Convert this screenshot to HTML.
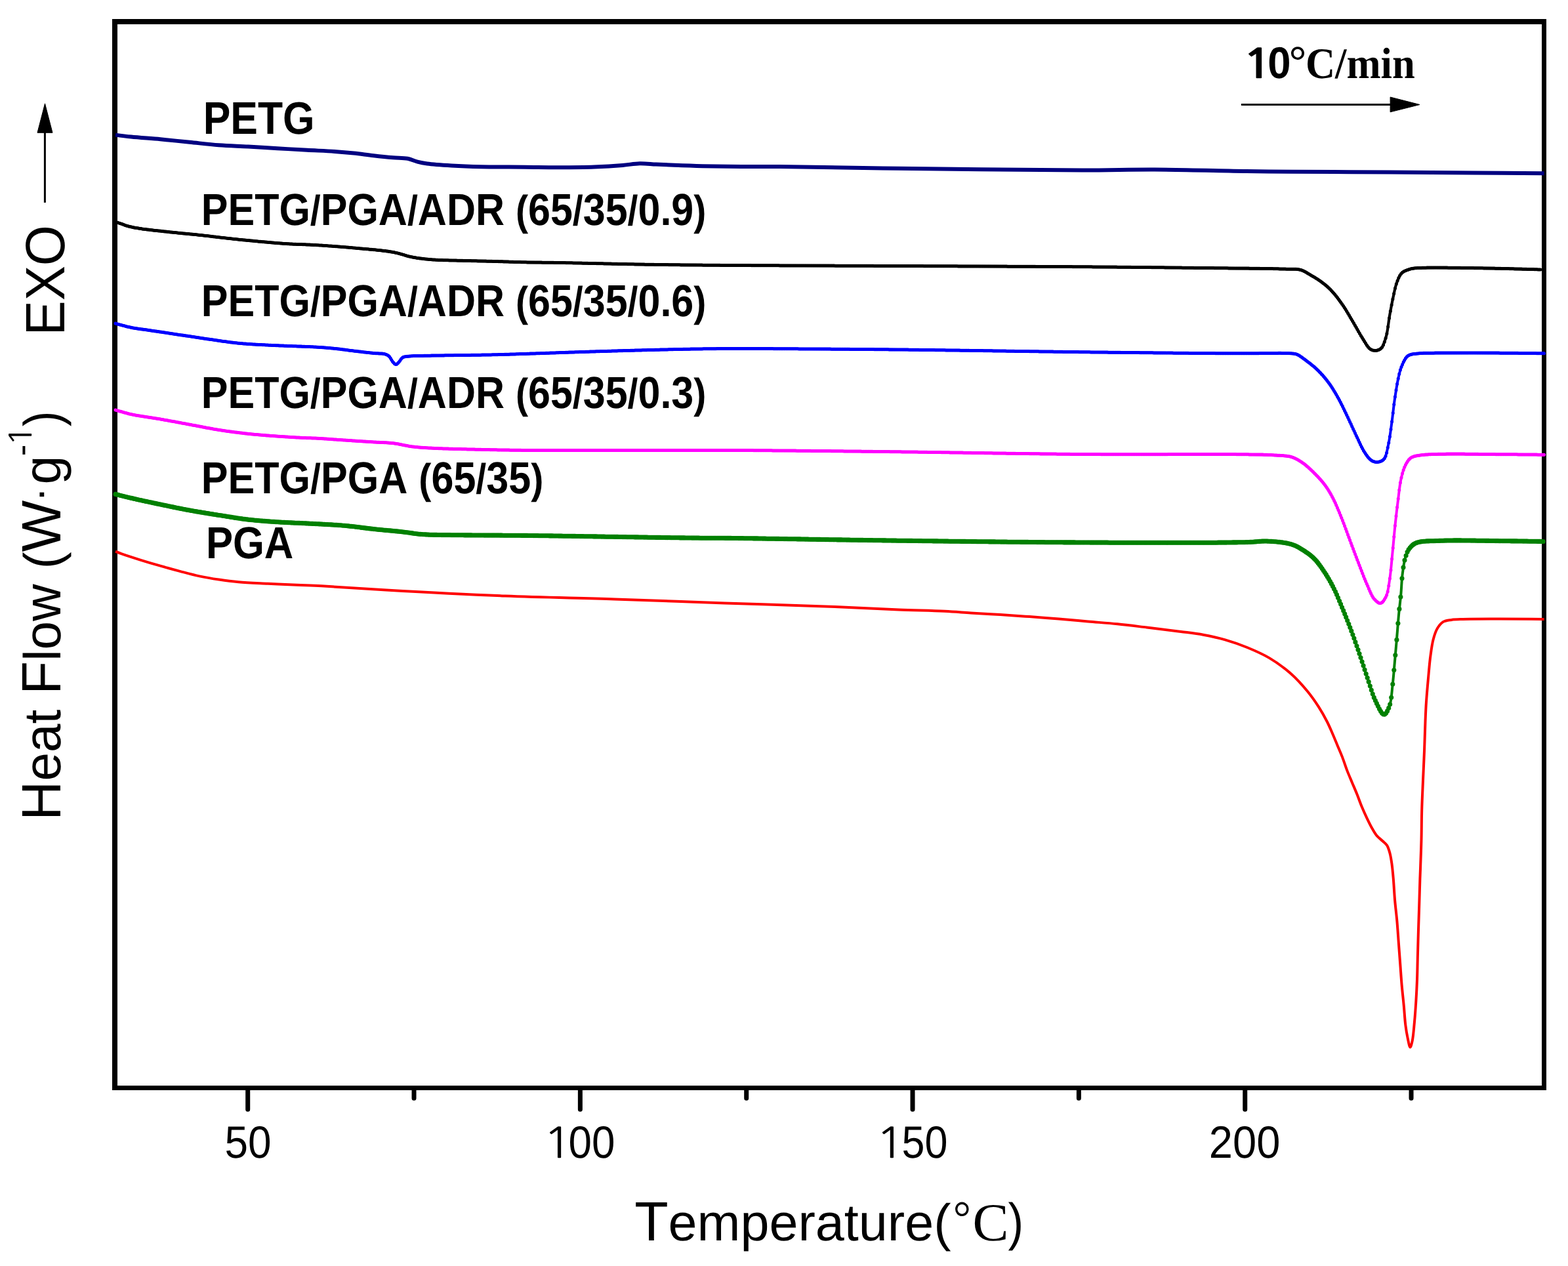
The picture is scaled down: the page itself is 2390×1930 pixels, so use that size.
<!DOCTYPE html>
<html lang="en">
<head>
<meta charset="utf-8">
<title>DSC heating curves: PETG, PGA and PETG/PGA/ADR blends</title>
<style>
html, body { margin: 0; padding: 0; background: #ffffff; }
body { width: 2390px; height: 1930px; overflow: hidden; }
svg { display: block; }
text { font-kerning: none; }
</style>
</head>
<body>
<svg width="2390" height="1930" viewBox="0 0 2390 1930">
<rect x="0" y="0" width="2390" height="1930" fill="#ffffff"/>
<g fill="#000">
<rect x="171" y="29" width="8" height="1633"/>
<rect x="2350" y="29" width="7" height="1633"/>
<rect x="171" y="29" width="2186" height="8"/>
<rect x="171" y="1655" width="2186" height="7"/>
</g>
<path d="M377.70,1659 L377.70,1691.2 M884.37,1659 L884.37,1691.2 M1391.03,1659 L1391.03,1691.2 M1897.70,1659 L1897.70,1691.2 M631.03,1659 L631.03,1674.2 M1137.70,1659 L1137.70,1674.2 M1644.36,1659 L1644.36,1674.2 M2151.03,1659 L2151.03,1674.2" stroke="#000" stroke-width="7" stroke-linecap="round" fill="none"/>
<path d="M176.00,205.60 C176.00,205.60 190.62,207.64 199.80,208.60 C212.34,209.91 229.53,210.93 244.40,212.30 C259.30,213.67 274.21,215.30 289.10,216.80 C303.98,218.30 318.81,220.18 333.70,221.30 C348.58,222.42 363.51,222.68 378.40,223.50 C393.28,224.32 408.12,225.32 423.00,226.20 C437.89,227.08 453.02,228.01 467.70,228.80 C481.94,229.57 497.00,230.02 509.80,230.90 C520.57,231.64 529.60,232.44 539.50,233.50 C549.44,234.57 559.36,236.17 569.30,237.30 C579.23,238.43 589.88,239.53 599.10,240.30 C607.07,240.97 614.78,240.53 621.40,241.80 C626.94,242.86 631.29,245.31 636.30,246.60 C641.23,247.87 645.09,248.66 651.20,249.50 C660.78,250.81 675.43,251.72 688.40,252.50 C702.58,253.36 716.62,253.92 733.00,254.30 C753.07,254.76 779.30,254.53 800.00,254.70 C817.88,254.84 832.86,255.22 850.00,255.20 C868.14,255.18 888.57,255.12 906.00,254.50 C921.29,253.96 936.47,253.04 949.00,252.00 C958.76,251.19 966.41,249.44 975.00,249.20 C983.41,248.97 991.43,250.08 1000.00,250.50 C1009.07,250.95 1017.67,251.39 1028.00,251.80 C1040.80,252.31 1055.53,252.86 1071.00,253.20 C1089.11,253.60 1110.37,253.75 1130.00,253.90 C1149.57,254.05 1163.69,253.87 1188.60,254.10 C1232.43,254.50 1303.05,255.98 1370.00,256.80 C1453.03,257.82 1577.06,259.48 1649.00,259.50 C1694.38,259.52 1720.86,258.33 1760.00,258.50 C1803.96,258.69 1861.58,260.46 1900.00,261.00 C1926.87,261.38 1941.26,261.49 1968.50,261.70 C2008.77,262.01 2070.21,262.17 2118.20,262.50 C2162.64,262.81 2205.75,263.31 2246.60,263.60 C2283.89,263.86 2353.60,264.20 2353.60,264.20" stroke="#000080" stroke-width="6" fill="none" stroke-linejoin="round" stroke-linecap="butt"/>
<path d="M178.90,339.20 C178.90,339.20 182.63,340.42 184.90,341.20 C187.90,342.23 191.25,343.80 195.30,344.90 C200.70,346.37 206.81,347.40 214.60,348.60 C226.39,350.41 244.39,352.18 259.30,353.80 C274.19,355.42 289.11,356.68 304.00,358.30 C318.88,359.92 333.73,361.88 348.60,363.50 C363.46,365.12 378.32,366.63 393.20,368.00 C408.09,369.37 423.21,370.78 437.90,371.70 C452.13,372.59 464.76,372.60 480.00,373.50 C498.13,374.57 519.67,376.19 539.50,378.00 C559.37,379.82 582.75,381.42 599.10,384.40 C610.80,386.53 618.83,390.20 628.80,392.10 C638.66,393.98 647.64,394.94 658.60,395.80 C671.97,396.85 688.41,396.88 703.30,397.30 C718.17,397.72 732.46,397.90 747.90,398.30 C764.59,398.73 782.50,399.43 800.00,399.80 C817.76,400.17 831.61,400.13 853.70,400.50 C889.27,401.09 947.64,402.63 993.00,403.30 C1036.31,403.94 1070.57,404.17 1120.00,404.50 C1189.36,404.97 1283.76,405.13 1370.00,405.50 C1462.46,405.89 1574.45,406.22 1657.40,406.80 C1720.72,407.25 1772.19,407.81 1824.90,408.40 C1872.03,408.92 1932.45,409.20 1958.80,410.10 C1969.85,410.48 1975.63,409.61 1982.30,411.40 C1987.74,412.86 1991.46,415.77 1996.30,418.50 C2001.78,421.60 2008.02,425.26 2013.40,429.20 C2018.72,433.10 2023.48,436.91 2028.40,442.00 C2034.20,447.99 2040.03,455.61 2045.50,463.40 C2051.48,471.91 2057.13,482.16 2062.60,491.30 C2067.81,500.01 2072.86,509.69 2077.60,517.00 C2081.32,522.74 2084.44,529.13 2088.30,531.90 C2090.99,533.83 2093.99,534.65 2096.80,534.50 C2099.69,534.34 2103.00,533.24 2105.40,530.80 C2108.88,527.27 2110.89,519.65 2112.90,512.60 C2115.48,503.55 2116.35,490.89 2118.20,480.60 C2119.93,470.97 2121.69,461.36 2123.60,452.70 C2125.28,445.07 2126.54,437.67 2128.90,431.30 C2130.95,425.76 2132.71,419.97 2136.40,416.40 C2139.94,412.98 2145.65,411.31 2150.30,410.00 C2154.58,408.80 2156.85,408.86 2163.20,408.50 C2180.86,407.51 2231.55,408.44 2263.70,408.90 C2293.38,409.32 2349.30,411.00 2349.30,411.00" stroke="#000000" stroke-width="4.2" fill="none" stroke-linejoin="round"/>
<defs><marker id="dk" markerUnits="userSpaceOnUse" markerWidth="8" markerHeight="8" refX="4" refY="4" overflow="visible"><circle cx="4" cy="4" r="2.5" fill="#000000"/></marker></defs>
<polyline fill="none" stroke="none" marker-start="url(#dk)" marker-mid="url(#dk)" marker-end="url(#dk)" points="178.9,339.2 180.7,339.8 182.5,340.4 184.3,341.0 186.1,341.6 187.9,342.3 189.7,343.0 191.5,343.7 193.3,344.3 195.1,344.8 196.9,345.3 198.7,345.7 200.5,346.1 202.3,346.5 204.1,346.9 205.9,347.2 207.7,347.5 209.5,347.8 211.3,348.1 213.1,348.4 214.9,348.6 216.7,348.9 218.5,349.2 220.3,349.4 222.1,349.6 223.9,349.9 225.7,350.1 227.5,350.3 229.3,350.5 231.1,350.7 232.9,350.9 234.7,351.2 236.5,351.4 238.3,351.5 240.1,351.7 241.9,351.9 243.7,352.1 245.5,352.3 247.3,352.5 249.1,352.7 250.9,352.9 252.7,353.1 254.5,353.3 256.3,353.5 258.1,353.7 259.9,353.9 261.7,354.1 263.5,354.2 265.3,354.4 267.1,354.6 268.9,354.8 270.7,355.0 272.5,355.2 274.3,355.3 276.1,355.5 277.9,355.7 279.7,355.9 281.5,356.0 283.3,356.2 285.1,356.4 286.9,356.6 288.7,356.7 290.5,356.9 292.3,357.1 294.1,357.3 295.9,357.5 297.7,357.6 299.5,357.8 301.3,358.0 303.1,358.2 304.9,358.4 306.7,358.6 308.5,358.8 310.3,359.0 312.1,359.2 313.9,359.4 315.7,359.6 317.5,359.8 319.3,360.1 321.1,360.3 322.9,360.5 324.7,360.7 326.5,360.9 328.3,361.1 330.1,361.4 331.9,361.6 333.7,361.8 335.5,362.0 337.3,362.2 339.1,362.4 340.9,362.6 342.7,362.8 344.5,363.0 346.3,363.2 348.1,363.4 349.9,363.6 351.7,363.8 353.5,364.0 355.3,364.2 357.1,364.4 358.9,364.6 360.7,364.8 362.5,365.0 364.3,365.2 366.1,365.4 367.9,365.5 369.7,365.7 371.5,365.9 373.3,366.1 375.1,366.3 376.9,366.4 378.7,366.6 380.5,366.8 382.3,367.0 384.1,367.1 385.9,367.3 387.7,367.5 389.5,367.7 391.3,367.8 393.1,368.0 394.9,368.2 396.7,368.3 398.5,368.5 400.3,368.7 402.1,368.8 403.9,369.0 405.7,369.1 407.5,369.3 409.3,369.5 411.1,369.6 412.9,369.8 414.7,369.9 416.5,370.1 418.3,370.2 420.1,370.4 421.9,370.5 423.7,370.7 425.5,370.8 427.3,371.0 429.1,371.1 430.9,371.2 432.7,371.4 434.5,371.5 436.3,371.6 438.1,371.7 439.9,371.8 441.7,371.9 443.5,372.0 445.3,372.1 447.1,372.2 448.9,372.3 450.7,372.3 452.5,372.4 454.3,372.5 456.1,372.5 457.9,372.6 459.7,372.6 461.5,372.7 463.3,372.8 465.1,372.8 466.9,372.9 468.7,373.0 470.5,373.0 472.3,373.1 474.1,373.2 475.9,373.3 477.7,373.4 479.5,373.5 481.3,373.6 483.1,373.7 484.9,373.8 486.7,373.9 488.5,374.0 490.3,374.1 492.1,374.3 493.9,374.4 495.7,374.5 497.5,374.6 499.3,374.8 501.1,374.9 502.9,375.0 504.7,375.1 506.5,375.3 508.3,375.4 510.1,375.5 511.9,375.7 513.7,375.8 515.5,376.0 517.3,376.1 519.1,376.3 520.9,376.4 522.7,376.5 524.5,376.7 526.3,376.8 528.1,377.0 529.9,377.1 531.7,377.3 533.5,377.5 535.3,377.6 537.1,377.8 538.9,377.9 540.7,378.1 542.5,378.3 544.3,378.4 546.1,378.6 547.9,378.7 549.7,378.9 551.5,379.1 553.3,379.2 555.1,379.4 556.9,379.5 558.7,379.7 560.5,379.8 562.3,380.0 564.1,380.2 565.9,380.3 567.7,380.5 569.5,380.7 571.3,380.8 573.1,381.0 574.9,381.2 576.7,381.4 578.5,381.6 580.3,381.8 582.1,382.0 583.9,382.2 585.7,382.4 587.5,382.6 589.3,382.9 591.1,383.1 592.9,383.4 594.7,383.7 596.5,383.9 598.3,384.3 600.1,384.6 601.9,385.0 603.7,385.4 605.5,385.8 607.3,386.2 609.1,386.7 610.9,387.2 612.7,387.8 614.5,388.3 616.3,388.8 618.1,389.4 619.9,389.9 621.7,390.4 623.5,390.9 625.3,391.3 627.1,391.8 628.9,392.1 630.7,392.5 632.5,392.8 634.3,393.1 636.1,393.4 637.9,393.6 639.7,393.9 641.5,394.1 643.3,394.3 645.1,394.5 646.9,394.7 648.7,394.9 650.5,395.1 652.3,395.3 654.1,395.4 655.9,395.6 657.7,395.7 659.5,395.9 661.3,396.0 663.1,396.1 664.9,396.2 666.7,396.3 668.5,396.4 670.3,396.5 672.1,396.5 673.9,396.6 675.7,396.7 677.5,396.7 679.3,396.8 681.1,396.8 682.9,396.8 684.7,396.9 686.5,396.9 688.3,397.0 690.1,397.0 691.9,397.0 693.7,397.1 695.5,397.1 697.3,397.2 699.1,397.2 700.9,397.2 702.7,397.3 704.5,397.3 706.3,397.4 708.1,397.4 709.9,397.5 711.7,397.5 713.5,397.6 715.3,397.6 717.1,397.6 718.9,397.7 720.7,397.7 722.5,397.7 724.3,397.8 726.1,397.8 727.9,397.9 729.7,397.9 731.5,397.9 733.3,398.0 735.1,398.0 736.9,398.0 738.7,398.1 740.5,398.1 742.3,398.2 744.1,398.2 745.9,398.2 747.7,398.3 749.5,398.3 751.3,398.4 753.1,398.4 754.9,398.5 756.7,398.5 758.5,398.6 760.3,398.7 762.1,398.7 763.9,398.8 765.7,398.8 767.5,398.9 769.3,398.9 771.1,399.0 772.9,399.0 774.7,399.1 776.5,399.2 778.3,399.2 780.1,399.3 781.9,399.3 783.7,399.4 785.5,399.4 787.3,399.5 789.1,399.5 790.9,399.6 792.7,399.6 794.5,399.7 796.3,399.7 798.1,399.8 799.9,399.8 801.7,399.8 803.5,399.9 805.3,399.9 807.1,399.9 808.9,400.0 810.7,400.0 812.5,400.0 814.3,400.0 816.1,400.1 817.9,400.1 819.7,400.1 821.5,400.1 823.3,400.1 825.1,400.1 826.9,400.2 828.7,400.2 830.5,400.2 832.3,400.2 834.1,400.2 835.9,400.3 837.7,400.3 839.5,400.3 841.3,400.3 843.1,400.3 844.9,400.4 846.7,400.4 848.5,400.4 850.3,400.4 852.1,400.5 853.9,400.5 855.7,400.5 857.5,400.6 859.3,400.6 861.1,400.6 862.9,400.7 864.7,400.7 866.5,400.7 868.3,400.8 870.1,400.8 871.9,400.8 873.7,400.9 875.5,400.9 877.3,400.9 879.1,401.0 880.9,401.0 882.7,401.1 884.5,401.1 886.3,401.1 888.1,401.2 889.9,401.2 891.7,401.3 893.5,401.3 895.3,401.3 897.1,401.4 898.9,401.4 900.7,401.5 902.5,401.5 904.3,401.5 906.1,401.6 907.9,401.6 909.7,401.7 911.5,401.7 913.3,401.7 915.1,401.8 916.9,401.8 918.7,401.8 920.5,401.9 922.3,401.9 924.1,402.0 925.9,402.0 927.7,402.0 929.5,402.1 931.3,402.1 933.1,402.2 934.9,402.2 936.7,402.2 938.5,402.3 940.3,402.3 942.1,402.4 943.9,402.4 945.7,402.4 947.5,402.5 949.3,402.5 951.1,402.5 952.9,402.6 954.7,402.6 956.5,402.7 958.3,402.7 960.1,402.7 961.9,402.8 963.7,402.8 965.5,402.8 967.3,402.9 969.1,402.9 970.9,402.9 972.7,403.0 974.5,403.0 976.3,403.0 978.1,403.1 979.9,403.1 981.7,403.1 983.5,403.2 985.3,403.2 987.1,403.2 988.9,403.2 990.7,403.3 992.5,403.3 994.3,403.3 996.1,403.3 997.9,403.4 999.7,403.4 1001.5,403.4 1003.3,403.4 1005.1,403.5 1006.9,403.5 1008.7,403.5 1010.5,403.5 1012.3,403.6 1014.1,403.6 1015.9,403.6 1017.7,403.6 1019.5,403.7 1021.3,403.7 1023.1,403.7 1024.9,403.7 1026.7,403.7 1028.5,403.8 1030.3,403.8 1032.1,403.8 1033.9,403.8 1035.7,403.8 1037.5,403.9 1039.3,403.9 1041.1,403.9 1042.9,403.9 1044.7,403.9 1046.5,403.9 1048.3,404.0 1050.1,404.0 1051.9,404.0 1053.7,404.0 1055.5,404.0 1057.3,404.0 1059.1,404.1 1060.9,404.1 1062.7,404.1 1064.5,404.1 1066.3,404.1 1068.1,404.1 1069.9,404.1 1071.7,404.2 1073.5,404.2 1075.3,404.2 1077.1,404.2 1078.9,404.2 1080.7,404.2 1082.5,404.2 1084.3,404.3 1086.1,404.3 1087.9,404.3 1089.7,404.3 1091.5,404.3 1093.3,404.3 1095.1,404.3 1096.9,404.3 1098.7,404.4 1100.5,404.4 1102.3,404.4 1104.1,404.4 1105.9,404.4 1107.7,404.4 1109.5,404.4 1111.3,404.4 1113.1,404.5 1114.9,404.5 1116.7,404.5 1118.5,404.5 1120.3,404.5 1122.1,404.5 1123.9,404.5 1125.7,404.5 1127.5,404.5 1129.3,404.6 1131.1,404.6 1132.9,404.6 1134.7,404.6 1136.5,404.6 1138.3,404.6 1140.1,404.6 1141.9,404.6 1143.7,404.6 1145.5,404.7 1147.3,404.7 1149.1,404.7 1150.9,404.7 1152.7,404.7 1154.5,404.7 1156.3,404.7 1158.1,404.7 1159.9,404.7 1161.7,404.7 1163.5,404.7 1165.3,404.8 1167.1,404.8 1168.9,404.8 1170.7,404.8 1172.5,404.8 1174.3,404.8 1176.1,404.8 1177.9,404.8 1179.7,404.8 1181.5,404.8 1183.3,404.8 1185.1,404.8 1186.9,404.8 1188.7,404.9 1190.5,404.9 1192.3,404.9 1194.1,404.9 1195.9,404.9 1197.7,404.9 1199.5,404.9 1201.3,404.9 1203.1,404.9 1204.9,404.9 1206.7,404.9 1208.5,404.9 1210.3,404.9 1212.1,404.9 1213.9,405.0 1215.7,405.0 1217.5,405.0 1219.3,405.0 1221.1,405.0 1222.9,405.0 1224.7,405.0 1226.5,405.0 1228.3,405.0 1230.1,405.0 1231.9,405.0 1233.7,405.0 1235.5,405.0 1237.3,405.0 1239.1,405.0 1240.9,405.0 1242.7,405.1 1244.5,405.1 1246.3,405.1 1248.1,405.1 1249.9,405.1 1251.7,405.1 1253.5,405.1 1255.3,405.1 1257.1,405.1 1258.9,405.1 1260.7,405.1 1262.5,405.1 1264.3,405.1 1266.1,405.1 1267.9,405.1 1269.7,405.1 1271.5,405.1 1273.3,405.2 1275.1,405.2 1276.9,405.2 1278.7,405.2 1280.5,405.2 1282.3,405.2 1284.1,405.2 1285.9,405.2 1287.7,405.2 1289.5,405.2 1291.3,405.2 1293.1,405.2 1294.9,405.2 1296.7,405.2 1298.5,405.2 1300.3,405.2 1302.1,405.2 1303.9,405.3 1305.7,405.3 1307.5,405.3 1309.3,405.3 1311.1,405.3 1312.9,405.3 1314.7,405.3 1316.5,405.3 1318.3,405.3 1320.1,405.3 1321.9,405.3 1323.7,405.3 1325.5,405.3 1327.3,405.3 1329.1,405.3 1330.9,405.3 1332.7,405.4 1334.5,405.4 1336.3,405.4 1338.1,405.4 1339.9,405.4 1341.7,405.4 1343.5,405.4 1345.3,405.4 1347.1,405.4 1348.9,405.4 1350.7,405.4 1352.5,405.4 1354.3,405.4 1356.1,405.4 1357.9,405.4 1359.7,405.5 1361.5,405.5 1363.3,405.5 1365.1,405.5 1366.9,405.5 1368.7,405.5 1370.5,405.5 1372.3,405.5 1374.1,405.5 1375.9,405.5 1377.7,405.5 1379.5,405.5 1381.3,405.5 1383.1,405.6 1384.9,405.6 1386.7,405.6 1388.5,405.6 1390.3,405.6 1392.1,405.6 1393.9,405.6 1395.7,405.6 1397.5,405.6 1399.3,405.6 1401.1,405.6 1402.9,405.6 1404.7,405.6 1406.5,405.6 1408.3,405.7 1410.1,405.7 1411.9,405.7 1413.7,405.7 1415.5,405.7 1417.3,405.7 1419.1,405.7 1420.9,405.7 1422.7,405.7 1424.5,405.7 1426.3,405.7 1428.1,405.7 1429.9,405.7 1431.7,405.7 1433.5,405.8 1435.3,405.8 1437.1,405.8 1438.9,405.8 1440.7,405.8 1442.5,405.8 1444.3,405.8 1446.1,405.8 1447.9,405.8 1449.7,405.8 1451.5,405.8 1453.3,405.8 1455.1,405.8 1456.9,405.8 1458.7,405.8 1460.5,405.9 1462.3,405.9 1464.1,405.9 1465.9,405.9 1467.7,405.9 1469.5,405.9 1471.3,405.9 1473.1,405.9 1474.9,405.9 1476.7,405.9 1478.5,405.9 1480.3,405.9 1482.1,405.9 1483.9,405.9 1485.7,406.0 1487.5,406.0 1489.3,406.0 1491.1,406.0 1492.9,406.0 1494.7,406.0 1496.5,406.0 1498.3,406.0 1500.1,406.0 1501.9,406.0 1503.7,406.0 1505.5,406.0 1507.3,406.0 1509.1,406.0 1510.9,406.1 1512.7,406.1 1514.5,406.1 1516.3,406.1 1518.1,406.1 1519.9,406.1 1521.7,406.1 1523.5,406.1 1525.3,406.1 1527.1,406.1 1528.9,406.1 1530.7,406.1 1532.5,406.1 1534.3,406.1 1536.1,406.2 1537.9,406.2 1539.7,406.2 1541.5,406.2 1543.3,406.2 1545.1,406.2 1546.9,406.2 1548.7,406.2 1550.5,406.2 1552.3,406.2 1554.1,406.2 1555.9,406.2 1557.7,406.3 1559.5,406.3 1561.3,406.3 1563.1,406.3 1564.9,406.3 1566.7,406.3 1568.5,406.3 1570.3,406.3 1572.1,406.3 1573.9,406.3 1575.7,406.3 1577.5,406.3 1579.3,406.4 1581.1,406.4 1582.9,406.4 1584.7,406.4 1586.5,406.4 1588.3,406.4 1590.1,406.4 1591.9,406.4 1593.7,406.4 1595.5,406.4 1597.3,406.4 1599.1,406.5 1600.9,406.5 1602.7,406.5 1604.5,406.5 1606.3,406.5 1608.1,406.5 1609.9,406.5 1611.7,406.5 1613.5,406.5 1615.3,406.5 1617.1,406.5 1618.9,406.6 1620.7,406.6 1622.5,406.6 1624.3,406.6 1626.1,406.6 1627.9,406.6 1629.7,406.6 1631.5,406.6 1633.3,406.6 1635.1,406.7 1636.9,406.7 1638.7,406.7 1640.5,406.7 1642.3,406.7 1644.1,406.7 1645.9,406.7 1647.7,406.7 1649.5,406.7 1651.3,406.8 1653.1,406.8 1654.9,406.8 1656.7,406.8 1658.5,406.8 1660.3,406.8 1662.1,406.8 1663.9,406.8 1665.7,406.9 1667.5,406.9 1669.3,406.9 1671.1,406.9 1672.9,406.9 1674.7,406.9 1676.5,406.9 1678.3,407.0 1680.1,407.0 1681.9,407.0 1683.7,407.0 1685.5,407.0 1687.3,407.0 1689.1,407.0 1690.9,407.1 1692.7,407.1 1694.5,407.1 1696.3,407.1 1698.1,407.1 1699.9,407.1 1701.7,407.1 1703.5,407.2 1705.3,407.2 1707.1,407.2 1708.9,407.2 1710.7,407.2 1712.5,407.2 1714.3,407.3 1716.1,407.3 1717.9,407.3 1719.7,407.3 1721.5,407.3 1723.3,407.3 1725.1,407.4 1726.9,407.4 1728.7,407.4 1730.5,407.4 1732.3,407.4 1734.1,407.4 1735.9,407.5 1737.7,407.5 1739.5,407.5 1741.3,407.5 1743.1,407.5 1744.9,407.5 1746.7,407.6 1748.5,407.6 1750.3,407.6 1752.1,407.6 1753.9,407.6 1755.7,407.7 1757.5,407.7 1759.3,407.7 1761.1,407.7 1762.9,407.7 1764.7,407.7 1766.5,407.8 1768.3,407.8 1770.1,407.8 1771.9,407.8 1773.7,407.8 1775.5,407.9 1777.3,407.9 1779.1,407.9 1780.9,407.9 1782.7,407.9 1784.5,408.0 1786.3,408.0 1788.1,408.0 1789.9,408.0 1791.7,408.0 1793.5,408.1 1795.3,408.1 1797.1,408.1 1798.9,408.1 1800.7,408.1 1802.5,408.2 1804.3,408.2 1806.1,408.2 1807.9,408.2 1809.7,408.2 1811.5,408.3 1813.3,408.3 1815.1,408.3 1816.9,408.3 1818.7,408.3 1820.5,408.4 1822.3,408.4 1824.1,408.4 1825.9,408.4 1827.7,408.4 1829.5,408.4 1831.3,408.5 1833.1,408.5 1834.9,408.5 1836.7,408.5 1838.5,408.5 1840.3,408.6 1842.1,408.6 1843.9,408.6 1845.7,408.6 1847.5,408.6 1849.3,408.6 1851.1,408.7 1852.9,408.7 1854.7,408.7 1856.5,408.7 1858.3,408.7 1860.1,408.7 1861.9,408.8 1863.7,408.8 1865.5,408.8 1867.3,408.8 1869.1,408.8 1870.9,408.8 1872.7,408.9 1874.5,408.9 1876.3,408.9 1878.1,408.9 1879.9,408.9 1881.7,408.9 1883.5,409.0 1885.3,409.0 1887.1,409.0 1888.9,409.0 1890.7,409.0 1892.5,409.0 1894.3,409.1 1896.1,409.1 1897.9,409.1 1899.7,409.1 1901.5,409.1 1903.3,409.1 1905.1,409.2 1906.9,409.2 1908.7,409.2 1910.5,409.2 1912.3,409.2 1914.1,409.3 1915.9,409.3 1917.7,409.3 1919.5,409.3 1921.3,409.4 1923.1,409.4 1924.9,409.4 1926.7,409.4 1928.5,409.5 1930.3,409.5 1932.1,409.5 1933.9,409.5 1935.7,409.6 1937.5,409.6 1939.3,409.6 1941.1,409.7 1942.9,409.7 1944.7,409.7 1946.5,409.8 1948.3,409.8 1950.1,409.9 1951.9,409.9 1953.7,409.9 1955.5,410.0 1957.3,410.1 1959.1,410.1 1960.9,410.2 1962.7,410.2 1964.5,410.2 1966.3,410.2 1968.1,410.2 1969.9,410.2 1971.7,410.2 1973.5,410.2 1975.3,410.3 1977.1,410.5 1978.9,410.7 1980.7,411.0 1982.5,411.5 1984.3,412.0 1986.1,412.7 1987.9,413.6 1989.7,414.6 1991.5,415.6 1993.3,416.7 1995.1,417.8 1996.9,418.8 1998.7,419.9 2000.5,420.9 2002.3,422.0 2004.1,423.1 2005.9,424.2 2007.7,425.3 2009.5,426.5 2011.3,427.7 2013.1,429.0 2014.9,430.3 2016.7,431.7 2018.5,433.1 2020.3,434.5 2022.1,436.0 2023.9,437.6 2025.7,439.3 2027.5,441.1 2029.3,442.9 2031.1,444.9 2032.9,447.0 2034.7,449.1 2036.5,451.3 2038.3,453.6 2040.1,456.0 2041.9,458.4 2043.7,460.9 2045.5,463.4 2047.3,466.0 2049.1,468.8 2050.9,471.6 2052.7,474.5 2054.5,477.5 2056.3,480.6 2058.1,483.7 2059.9,486.7 2061.7,489.8 2063.5,492.8 2065.3,495.9 2067.1,499.1 2068.9,502.2 2070.7,505.4 2072.5,508.6 2074.3,511.7 2076.1,514.6 2077.9,517.5 2079.7,520.4 2081.5,523.3 2083.3,526.2 2085.1,528.7 2086.9,530.7 2088.7,532.2 2090.5,533.2 2092.3,533.9 2094.1,534.3 2095.9,534.5 2097.7,534.4 2099.5,534.1 2101.3,533.5 2103.1,532.6 2104.9,531.3 2106.7,529.2 2108.5,526.0 2110.3,521.3 2112.1,515.4 2113.9,508.6 2115.7,498.0 2117.5,484.9 2119.3,474.5 2121.1,464.9 2122.9,455.9 2124.7,447.5 2126.5,439.4 2128.3,433.0 2130.1,428.0 2131.9,423.4 2133.7,419.9 2135.5,417.4 2137.3,415.6 2139.1,414.3 2140.9,413.3 2142.7,412.5 2144.5,411.8 2146.3,411.2 2148.1,410.6 2149.9,410.1 2151.7,409.6 2153.5,409.3 2155.3,409.0 2157.1,408.8 2158.9,408.7 2160.7,408.6 2162.5,408.5 2164.3,408.4 2166.1,408.4 2167.9,408.3 2169.7,408.3 2171.5,408.2 2173.3,408.2 2175.1,408.1 2176.9,408.1 2178.7,408.1 2180.5,408.1 2182.3,408.1 2184.1,408.1 2185.9,408.1 2187.7,408.1 2189.5,408.1 2191.3,408.1 2193.1,408.1 2194.9,408.1 2196.7,408.1 2198.5,408.1 2200.3,408.1 2202.1,408.1 2203.9,408.1 2205.7,408.1 2207.5,408.2 2209.3,408.2 2211.1,408.2 2212.9,408.2 2214.7,408.2 2216.5,408.2 2218.3,408.3 2220.1,408.3 2221.9,408.3 2223.7,408.3 2225.5,408.3 2227.3,408.4 2229.1,408.4 2230.9,408.4 2232.7,408.4 2234.5,408.5 2236.3,408.5 2238.1,408.5 2239.9,408.5 2241.7,408.6 2243.5,408.6 2245.3,408.6 2247.1,408.7 2248.9,408.7 2250.7,408.7 2252.5,408.7 2254.3,408.8 2256.1,408.8 2257.9,408.8 2259.7,408.8 2261.5,408.9 2263.3,408.9 2265.1,408.9 2266.9,408.9 2268.7,409.0 2270.5,409.0 2272.3,409.0 2274.1,409.1 2275.9,409.1 2277.7,409.1 2279.5,409.2 2281.3,409.2 2283.1,409.3 2284.9,409.3 2286.7,409.3 2288.5,409.4 2290.3,409.4 2292.1,409.5 2293.9,409.5 2295.7,409.5 2297.5,409.6 2299.3,409.6 2301.1,409.7 2302.9,409.7 2304.7,409.8 2306.5,409.8 2308.3,409.9 2310.1,409.9 2311.9,410.0 2313.7,410.0 2315.5,410.1 2317.3,410.1 2319.1,410.1 2320.9,410.2 2322.7,410.2 2324.5,410.3 2326.3,410.3 2328.1,410.4 2329.9,410.4 2331.7,410.5 2333.5,410.5 2335.3,410.6 2337.1,410.6 2338.9,410.7 2340.7,410.7 2342.5,410.8 2344.3,410.9 2346.1,410.9 2347.9,411.0"/>
<path d="M176.00,493.10 C176.00,493.10 191.38,497.57 199.80,499.30 C209.11,501.21 218.59,502.16 229.50,503.80 C242.88,505.82 259.31,508.27 274.20,510.50 C289.08,512.73 303.92,515.08 318.80,517.20 C333.68,519.32 348.58,521.72 363.50,523.20 C378.35,524.68 393.22,525.32 408.10,526.10 C422.99,526.88 439.74,527.37 452.80,527.90 C462.99,528.31 470.73,528.46 480.00,529.00 C489.71,529.57 499.89,530.30 509.80,531.30 C519.72,532.30 529.59,533.82 539.50,535.00 C549.42,536.18 560.62,537.54 569.30,538.40 C576.02,539.06 582.94,538.60 587.20,539.90 C589.81,540.70 591.30,541.54 593.10,543.20 C595.37,545.29 597.08,549.92 599.10,552.10 C600.56,553.68 602.02,555.59 603.50,555.60 C604.99,555.61 606.48,553.58 608.00,552.10 C609.94,550.21 611.22,546.45 613.90,544.90 C616.97,543.13 621.49,543.33 625.90,542.90 C631.23,542.38 636.42,542.56 643.70,542.40 C655.23,542.15 672.44,541.93 688.40,541.70 C706.82,541.43 728.73,541.30 747.90,540.90 C765.84,540.52 779.45,540.03 800.00,539.40 C829.80,538.48 870.79,536.94 909.50,535.80 C953.19,534.52 1010.28,532.89 1049.00,532.20 C1076.62,531.71 1096.59,531.58 1120.00,531.50 C1142.91,531.42 1159.86,531.56 1188.00,531.70 C1234.03,531.93 1302.88,532.32 1370.00,533.00 C1453.11,533.85 1564.25,535.73 1649.00,536.70 C1719.94,537.52 1799.20,538.30 1844.50,538.60 C1868.64,538.76 1880.53,538.76 1900.00,538.80 C1921.63,538.84 1956.63,537.76 1968.50,538.80 C1972.71,539.17 1974.01,539.10 1977.00,540.30 C1981.01,541.91 1985.38,545.57 1989.90,548.90 C1995.29,552.87 2001.50,557.55 2007.00,562.80 C2012.94,568.48 2018.84,575.04 2024.10,582.00 C2029.58,589.26 2034.32,597.14 2039.10,605.60 C2044.33,614.85 2049.28,625.68 2054.00,635.50 C2058.52,644.90 2062.55,654.24 2066.90,663.30 C2071.12,672.06 2075.21,682.10 2079.70,689.00 C2083.13,694.27 2086.50,699.42 2090.40,701.90 C2093.40,703.81 2096.85,704.71 2100.00,704.40 C2103.29,704.08 2107.18,702.66 2109.70,699.70 C2113.32,695.45 2114.28,686.34 2116.10,678.30 C2118.36,668.30 2119.80,655.51 2121.40,644.10 C2123.00,632.71 2124.05,621.10 2125.70,609.90 C2127.30,599.01 2129.05,587.10 2131.10,577.80 C2132.71,570.51 2133.85,564.47 2136.40,558.50 C2138.87,552.74 2141.43,545.77 2146.00,542.50 C2150.44,539.32 2157.28,539.52 2163.20,538.80 C2169.39,538.04 2173.33,538.34 2182.40,538.20 C2204.44,537.86 2264.31,538.04 2295.80,538.20 C2318.28,538.32 2353.60,538.80 2353.60,538.80" stroke="#0000FF" stroke-width="4" fill="none" stroke-linejoin="round"/>
<defs><marker id="db" markerUnits="userSpaceOnUse" markerWidth="8" markerHeight="8" refX="4" refY="4" overflow="visible"><circle cx="4" cy="4" r="2.5" fill="#0000FF"/></marker></defs>
<polyline fill="none" stroke="none" marker-start="url(#db)" marker-mid="url(#db)" marker-end="url(#db)" points="176.0,493.1 177.6,493.6 179.2,494.0 180.8,494.5 182.4,494.9 184.0,495.3 185.6,495.8 187.2,496.2 188.8,496.6 190.4,497.1 192.0,497.5 193.6,497.9 195.2,498.3 196.8,498.6 198.4,499.0 200.0,499.3 201.6,499.7 203.2,500.0 204.8,500.2 206.4,500.5 208.0,500.8 209.6,501.0 211.2,501.2 212.8,501.5 214.4,501.7 216.0,501.9 217.6,502.1 219.2,502.4 220.8,502.6 222.4,502.8 224.0,503.0 225.6,503.2 227.2,503.5 228.8,503.7 230.4,503.9 232.0,504.2 233.6,504.4 235.2,504.7 236.8,504.9 238.4,505.1 240.0,505.4 241.6,505.6 243.2,505.9 244.8,506.1 246.4,506.3 248.0,506.6 249.6,506.8 251.2,507.1 252.8,507.3 254.4,507.5 256.0,507.8 257.6,508.0 259.2,508.3 260.8,508.5 262.4,508.7 264.0,509.0 265.6,509.2 267.2,509.5 268.8,509.7 270.4,509.9 272.0,510.2 273.6,510.4 275.2,510.7 276.8,510.9 278.4,511.1 280.0,511.4 281.6,511.6 283.2,511.9 284.8,512.1 286.4,512.3 288.0,512.6 289.6,512.8 291.2,513.1 292.8,513.3 294.4,513.6 296.0,513.8 297.6,514.1 299.2,514.3 300.8,514.5 302.4,514.8 304.0,515.0 305.6,515.3 307.2,515.5 308.8,515.7 310.4,516.0 312.0,516.2 313.6,516.5 315.2,516.7 316.8,516.9 318.4,517.1 320.0,517.4 321.6,517.6 323.2,517.8 324.8,518.1 326.4,518.3 328.0,518.5 329.6,518.8 331.2,519.0 332.8,519.2 334.4,519.5 336.0,519.7 337.6,519.9 339.2,520.2 340.8,520.4 342.4,520.6 344.0,520.8 345.6,521.1 347.2,521.3 348.8,521.5 350.4,521.7 352.0,521.9 353.6,522.1 355.2,522.3 356.8,522.5 358.4,522.7 360.0,522.8 361.6,523.0 363.2,523.2 364.8,523.3 366.4,523.5 368.0,523.6 369.6,523.8 371.2,523.9 372.8,524.0 374.4,524.1 376.0,524.3 377.6,524.4 379.2,524.5 380.8,524.6 382.4,524.7 384.0,524.8 385.6,524.9 387.2,525.0 388.8,525.1 390.4,525.2 392.0,525.3 393.6,525.4 395.2,525.4 396.8,525.5 398.4,525.6 400.0,525.7 401.6,525.8 403.2,525.8 404.8,525.9 406.4,526.0 408.0,526.1 409.6,526.2 411.2,526.3 412.8,526.3 414.4,526.4 416.0,526.5 417.6,526.6 419.2,526.6 420.8,526.7 422.4,526.8 424.0,526.8 425.6,526.9 427.2,526.9 428.8,527.0 430.4,527.1 432.0,527.1 433.6,527.2 435.2,527.2 436.8,527.3 438.4,527.4 440.0,527.4 441.6,527.5 443.2,527.5 444.8,527.6 446.4,527.7 448.0,527.7 449.6,527.8 451.2,527.8 452.8,527.9 454.4,528.0 456.0,528.0 457.6,528.1 459.2,528.1 460.8,528.2 462.4,528.3 464.0,528.3 465.6,528.4 467.2,528.4 468.8,528.5 470.4,528.5 472.0,528.6 473.6,528.7 475.2,528.7 476.8,528.8 478.4,528.9 480.0,529.0 481.6,529.1 483.2,529.2 484.8,529.3 486.4,529.4 488.0,529.5 489.6,529.6 491.2,529.7 492.8,529.8 494.4,530.0 496.0,530.1 497.6,530.2 499.2,530.3 500.8,530.5 502.4,530.6 504.0,530.7 505.6,530.9 507.2,531.0 508.8,531.2 510.4,531.4 512.0,531.5 513.6,531.7 515.2,531.9 516.8,532.1 518.4,532.3 520.0,532.5 521.6,532.7 523.2,532.9 524.8,533.1 526.4,533.3 528.0,533.5 529.6,533.7 531.2,533.9 532.8,534.2 534.4,534.4 536.0,534.6 537.6,534.8 539.2,535.0 540.8,535.2 542.4,535.3 544.0,535.5 545.6,535.7 547.2,535.9 548.8,536.1 550.4,536.3 552.0,536.5 553.6,536.7 555.2,536.9 556.8,537.0 558.4,537.2 560.0,537.4 561.6,537.6 563.2,537.8 564.8,537.9 566.4,538.1 568.0,538.3 569.6,538.4 571.2,538.6 572.8,538.7 574.4,538.7 576.0,538.8 577.6,538.9 579.2,538.9 580.8,539.0 582.4,539.1 584.0,539.3 585.6,539.5 587.2,539.9 588.8,540.5 590.4,541.2 592.0,542.3 593.6,543.7 595.2,545.9 596.8,548.7 598.4,551.2 600.0,553.1 601.6,554.7 603.2,555.6 604.8,555.2 606.4,553.8 608.0,552.1 609.6,550.0 611.2,547.6 612.8,545.7 614.4,544.6 616.0,544.0 617.6,543.7 619.2,543.4 620.8,543.3 622.4,543.2 624.0,543.1 625.6,542.9 627.2,542.8 628.8,542.7 630.4,542.6 632.0,542.6 633.6,542.5 635.2,542.5 636.8,542.5 638.4,542.5 640.0,542.5 641.6,542.4 643.2,542.4 644.8,542.4 646.4,542.3 648.0,542.3 649.6,542.3 651.2,542.3 652.8,542.2 654.4,542.2 656.0,542.2 657.6,542.1 659.2,542.1 660.8,542.1 662.4,542.1 664.0,542.0 665.6,542.0 667.2,542.0 668.8,542.0 670.4,542.0 672.0,541.9 673.6,541.9 675.2,541.9 676.8,541.9 678.4,541.8 680.0,541.8 681.6,541.8 683.2,541.8 684.8,541.8 686.4,541.7 688.0,541.7 689.6,541.7 691.2,541.7 692.8,541.6 694.4,541.6 696.0,541.6 697.6,541.6 699.2,541.6 700.8,541.5 702.4,541.5 704.0,541.5 705.6,541.5 707.2,541.5 708.8,541.4 710.4,541.4 712.0,541.4 713.6,541.4 715.2,541.4 716.8,541.4 718.4,541.3 720.0,541.3 721.6,541.3 723.2,541.3 724.8,541.3 726.4,541.2 728.0,541.2 729.6,541.2 731.2,541.2 732.8,541.2 734.4,541.1 736.0,541.1 737.6,541.1 739.2,541.1 740.8,541.0 742.4,541.0 744.0,541.0 745.6,540.9 747.2,540.9 748.8,540.9 750.4,540.8 752.0,540.8 753.6,540.8 755.2,540.7 756.8,540.7 758.4,540.7 760.0,540.6 761.6,540.6 763.2,540.5 764.8,540.5 766.4,540.4 768.0,540.4 769.6,540.3 771.2,540.3 772.8,540.2 774.4,540.2 776.0,540.2 777.6,540.1 779.2,540.1 780.8,540.0 782.4,540.0 784.0,539.9 785.6,539.9 787.2,539.8 788.8,539.7 790.4,539.7 792.0,539.6 793.6,539.6 795.2,539.5 796.8,539.5 798.4,539.4 800.0,539.4 801.6,539.4 803.2,539.3 804.8,539.2 806.4,539.2 808.0,539.1 809.6,539.1 811.2,539.0 812.8,539.0 814.4,538.9 816.0,538.9 817.6,538.8 819.2,538.8 820.8,538.7 822.4,538.7 824.0,538.6 825.6,538.6 827.2,538.5 828.8,538.5 830.4,538.4 832.0,538.3 833.6,538.3 835.2,538.2 836.8,538.2 838.4,538.1 840.0,538.1 841.6,538.0 843.2,538.0 844.8,537.9 846.4,537.9 848.0,537.8 849.6,537.7 851.2,537.7 852.8,537.6 854.4,537.6 856.0,537.5 857.6,537.5 859.2,537.4 860.8,537.4 862.4,537.3 864.0,537.3 865.6,537.2 867.2,537.1 868.8,537.1 870.4,537.0 872.0,537.0 873.6,536.9 875.2,536.9 876.8,536.8 878.4,536.8 880.0,536.7 881.6,536.7 883.2,536.6 884.8,536.6 886.4,536.5 888.0,536.5 889.6,536.4 891.2,536.4 892.8,536.3 894.4,536.3 896.0,536.2 897.6,536.2 899.2,536.1 900.8,536.1 902.4,536.0 904.0,536.0 905.6,535.9 907.2,535.9 908.8,535.8 910.4,535.8 912.0,535.7 913.6,535.7 915.2,535.6 916.8,535.6 918.4,535.5 920.0,535.5 921.6,535.4 923.2,535.4 924.8,535.4 926.4,535.3 928.0,535.3 929.6,535.2 931.2,535.2 932.8,535.1 934.4,535.1 936.0,535.0 937.6,535.0 939.2,534.9 940.8,534.9 942.4,534.8 944.0,534.8 945.6,534.8 947.2,534.7 948.8,534.7 950.4,534.6 952.0,534.6 953.6,534.5 955.2,534.5 956.8,534.4 958.4,534.4 960.0,534.4 961.6,534.3 963.2,534.3 964.8,534.2 966.4,534.2 968.0,534.1 969.6,534.1 971.2,534.0 972.8,534.0 974.4,534.0 976.0,533.9 977.6,533.9 979.2,533.8 980.8,533.8 982.4,533.7 984.0,533.7 985.6,533.7 987.2,533.6 988.8,533.6 990.4,533.5 992.0,533.5 993.6,533.5 995.2,533.4 996.8,533.4 998.4,533.3 1000.0,533.3 1001.6,533.2 1003.2,533.2 1004.8,533.2 1006.4,533.1 1008.0,533.1 1009.6,533.1 1011.2,533.0 1012.8,533.0 1014.4,532.9 1016.0,532.9 1017.6,532.9 1019.2,532.8 1020.8,532.8 1022.4,532.7 1024.0,532.7 1025.6,532.7 1027.2,532.6 1028.8,532.6 1030.4,532.6 1032.0,532.5 1033.6,532.5 1035.2,532.5 1036.8,532.4 1038.4,532.4 1040.0,532.4 1041.6,532.3 1043.2,532.3 1044.8,532.3 1046.4,532.2 1048.0,532.2 1049.6,532.2 1051.2,532.2 1052.8,532.1 1054.4,532.1 1056.0,532.1 1057.6,532.1 1059.2,532.0 1060.8,532.0 1062.4,532.0 1064.0,532.0 1065.6,531.9 1067.2,531.9 1068.8,531.9 1070.4,531.9 1072.0,531.8 1073.6,531.8 1075.2,531.8 1076.8,531.8 1078.4,531.8 1080.0,531.8 1081.6,531.7 1083.2,531.7 1084.8,531.7 1086.4,531.7 1088.0,531.7 1089.6,531.7 1091.2,531.7 1092.8,531.6 1094.4,531.6 1096.0,531.6 1097.6,531.6 1099.2,531.6 1100.8,531.6 1102.4,531.6 1104.0,531.6 1105.6,531.6 1107.2,531.6 1108.8,531.5 1110.4,531.5 1112.0,531.5 1113.6,531.5 1115.2,531.5 1116.8,531.5 1118.4,531.5 1120.0,531.5 1121.6,531.5 1123.2,531.5 1124.8,531.5 1126.4,531.5 1128.0,531.5 1129.6,531.5 1131.2,531.5 1132.8,531.5 1134.4,531.5 1136.0,531.5 1137.6,531.5 1139.2,531.5 1140.8,531.5 1142.4,531.5 1144.0,531.5 1145.6,531.5 1147.2,531.5 1148.8,531.5 1150.4,531.5 1152.0,531.5 1153.6,531.5 1155.2,531.5 1156.8,531.5 1158.4,531.5 1160.0,531.6 1161.6,531.6 1163.2,531.6 1164.8,531.6 1166.4,531.6 1168.0,531.6 1169.6,531.6 1171.2,531.6 1172.8,531.6 1174.4,531.6 1176.0,531.6 1177.6,531.6 1179.2,531.7 1180.8,531.7 1182.4,531.7 1184.0,531.7 1185.6,531.7 1187.2,531.7 1188.8,531.7 1190.4,531.7 1192.0,531.7 1193.6,531.7 1195.2,531.7 1196.8,531.7 1198.4,531.8 1200.0,531.8 1201.6,531.8 1203.2,531.8 1204.8,531.8 1206.4,531.8 1208.0,531.8 1209.6,531.8 1211.2,531.8 1212.8,531.8 1214.4,531.8 1216.0,531.8 1217.6,531.9 1219.2,531.9 1220.8,531.9 1222.4,531.9 1224.0,531.9 1225.6,531.9 1227.2,531.9 1228.8,531.9 1230.4,531.9 1232.0,531.9 1233.6,531.9 1235.2,532.0 1236.8,532.0 1238.4,532.0 1240.0,532.0 1241.6,532.0 1243.2,532.0 1244.8,532.0 1246.4,532.0 1248.0,532.0 1249.6,532.0 1251.2,532.1 1252.8,532.1 1254.4,532.1 1256.0,532.1 1257.6,532.1 1259.2,532.1 1260.8,532.1 1262.4,532.1 1264.0,532.1 1265.6,532.1 1267.2,532.2 1268.8,532.2 1270.4,532.2 1272.0,532.2 1273.6,532.2 1275.2,532.2 1276.8,532.2 1278.4,532.2 1280.0,532.2 1281.6,532.3 1283.2,532.3 1284.8,532.3 1286.4,532.3 1288.0,532.3 1289.6,532.3 1291.2,532.3 1292.8,532.3 1294.4,532.3 1296.0,532.4 1297.6,532.4 1299.2,532.4 1300.8,532.4 1302.4,532.4 1304.0,532.4 1305.6,532.4 1307.2,532.4 1308.8,532.5 1310.4,532.5 1312.0,532.5 1313.6,532.5 1315.2,532.5 1316.8,532.5 1318.4,532.5 1320.0,532.5 1321.6,532.6 1323.2,532.6 1324.8,532.6 1326.4,532.6 1328.0,532.6 1329.6,532.6 1331.2,532.6 1332.8,532.7 1334.4,532.7 1336.0,532.7 1337.6,532.7 1339.2,532.7 1340.8,532.7 1342.4,532.7 1344.0,532.8 1345.6,532.8 1347.2,532.8 1348.8,532.8 1350.4,532.8 1352.0,532.8 1353.6,532.8 1355.2,532.9 1356.8,532.9 1358.4,532.9 1360.0,532.9 1361.6,532.9 1363.2,532.9 1364.8,532.9 1366.4,533.0 1368.0,533.0 1369.6,533.0 1371.2,533.0 1372.8,533.0 1374.4,533.0 1376.0,533.1 1377.6,533.1 1379.2,533.1 1380.8,533.1 1382.4,533.1 1384.0,533.1 1385.6,533.2 1387.2,533.2 1388.8,533.2 1390.4,533.2 1392.0,533.2 1393.6,533.3 1395.2,533.3 1396.8,533.3 1398.4,533.3 1400.0,533.3 1401.6,533.4 1403.2,533.4 1404.8,533.4 1406.4,533.4 1408.0,533.4 1409.6,533.5 1411.2,533.5 1412.8,533.5 1414.4,533.5 1416.0,533.5 1417.6,533.6 1419.2,533.6 1420.8,533.6 1422.4,533.6 1424.0,533.6 1425.6,533.7 1427.2,533.7 1428.8,533.7 1430.4,533.7 1432.0,533.7 1433.6,533.8 1435.2,533.8 1436.8,533.8 1438.4,533.8 1440.0,533.8 1441.6,533.9 1443.2,533.9 1444.8,533.9 1446.4,533.9 1448.0,534.0 1449.6,534.0 1451.2,534.0 1452.8,534.0 1454.4,534.0 1456.0,534.1 1457.6,534.1 1459.2,534.1 1460.8,534.1 1462.4,534.1 1464.0,534.2 1465.6,534.2 1467.2,534.2 1468.8,534.2 1470.4,534.3 1472.0,534.3 1473.6,534.3 1475.2,534.3 1476.8,534.3 1478.4,534.4 1480.0,534.4 1481.6,534.4 1483.2,534.4 1484.8,534.5 1486.4,534.5 1488.0,534.5 1489.6,534.5 1491.2,534.6 1492.8,534.6 1494.4,534.6 1496.0,534.6 1497.6,534.6 1499.2,534.7 1500.8,534.7 1502.4,534.7 1504.0,534.7 1505.6,534.8 1507.2,534.8 1508.8,534.8 1510.4,534.8 1512.0,534.8 1513.6,534.9 1515.2,534.9 1516.8,534.9 1518.4,534.9 1520.0,535.0 1521.6,535.0 1523.2,535.0 1524.8,535.0 1526.4,535.1 1528.0,535.1 1529.6,535.1 1531.2,535.1 1532.8,535.1 1534.4,535.2 1536.0,535.2 1537.6,535.2 1539.2,535.2 1540.8,535.3 1542.4,535.3 1544.0,535.3 1545.6,535.3 1547.2,535.4 1548.8,535.4 1550.4,535.4 1552.0,535.4 1553.6,535.4 1555.2,535.5 1556.8,535.5 1558.4,535.5 1560.0,535.5 1561.6,535.6 1563.2,535.6 1564.8,535.6 1566.4,535.6 1568.0,535.6 1569.6,535.7 1571.2,535.7 1572.8,535.7 1574.4,535.7 1576.0,535.8 1577.6,535.8 1579.2,535.8 1580.8,535.8 1582.4,535.8 1584.0,535.9 1585.6,535.9 1587.2,535.9 1588.8,535.9 1590.4,536.0 1592.0,536.0 1593.6,536.0 1595.2,536.0 1596.8,536.0 1598.4,536.1 1600.0,536.1 1601.6,536.1 1603.2,536.1 1604.8,536.1 1606.4,536.2 1608.0,536.2 1609.6,536.2 1611.2,536.2 1612.8,536.3 1614.4,536.3 1616.0,536.3 1617.6,536.3 1619.2,536.3 1620.8,536.4 1622.4,536.4 1624.0,536.4 1625.6,536.4 1627.2,536.4 1628.8,536.5 1630.4,536.5 1632.0,536.5 1633.6,536.5 1635.2,536.5 1636.8,536.6 1638.4,536.6 1640.0,536.6 1641.6,536.6 1643.2,536.6 1644.8,536.7 1646.4,536.7 1648.0,536.7 1649.6,536.7 1651.2,536.7 1652.8,536.7 1654.4,536.8 1656.0,536.8 1657.6,536.8 1659.2,536.8 1660.8,536.8 1662.4,536.9 1664.0,536.9 1665.6,536.9 1667.2,536.9 1668.8,536.9 1670.4,536.9 1672.0,537.0 1673.6,537.0 1675.2,537.0 1676.8,537.0 1678.4,537.0 1680.0,537.0 1681.6,537.1 1683.2,537.1 1684.8,537.1 1686.4,537.1 1688.0,537.1 1689.6,537.2 1691.2,537.2 1692.8,537.2 1694.4,537.2 1696.0,537.2 1697.6,537.2 1699.2,537.3 1700.8,537.3 1702.4,537.3 1704.0,537.3 1705.6,537.3 1707.2,537.3 1708.8,537.4 1710.4,537.4 1712.0,537.4 1713.6,537.4 1715.2,537.4 1716.8,537.4 1718.4,537.5 1720.0,537.5 1721.6,537.5 1723.2,537.5 1724.8,537.5 1726.4,537.5 1728.0,537.6 1729.6,537.6 1731.2,537.6 1732.8,537.6 1734.4,537.6 1736.0,537.6 1737.6,537.7 1739.2,537.7 1740.8,537.7 1742.4,537.7 1744.0,537.7 1745.6,537.7 1747.2,537.8 1748.8,537.8 1750.4,537.8 1752.0,537.8 1753.6,537.8 1755.2,537.8 1756.8,537.8 1758.4,537.9 1760.0,537.9 1761.6,537.9 1763.2,537.9 1764.8,537.9 1766.4,537.9 1768.0,538.0 1769.6,538.0 1771.2,538.0 1772.8,538.0 1774.4,538.0 1776.0,538.0 1777.6,538.0 1779.2,538.1 1780.8,538.1 1782.4,538.1 1784.0,538.1 1785.6,538.1 1787.2,538.1 1788.8,538.2 1790.4,538.2 1792.0,538.2 1793.6,538.2 1795.2,538.2 1796.8,538.2 1798.4,538.2 1800.0,538.3 1801.6,538.3 1803.2,538.3 1804.8,538.3 1806.4,538.3 1808.0,538.3 1809.6,538.3 1811.2,538.3 1812.8,538.4 1814.4,538.4 1816.0,538.4 1817.6,538.4 1819.2,538.4 1820.8,538.4 1822.4,538.4 1824.0,538.5 1825.6,538.5 1827.2,538.5 1828.8,538.5 1830.4,538.5 1832.0,538.5 1833.6,538.5 1835.2,538.5 1836.8,538.5 1838.4,538.6 1840.0,538.6 1841.6,538.6 1843.2,538.6 1844.8,538.6 1846.4,538.6 1848.0,538.6 1849.6,538.6 1851.2,538.6 1852.8,538.7 1854.4,538.7 1856.0,538.7 1857.6,538.7 1859.2,538.7 1860.8,538.7 1862.4,538.7 1864.0,538.7 1865.6,538.7 1867.2,538.7 1868.8,538.7 1870.4,538.7 1872.0,538.7 1873.6,538.7 1875.2,538.7 1876.8,538.8 1878.4,538.8 1880.0,538.8 1881.6,538.8 1883.2,538.8 1884.8,538.8 1886.4,538.8 1888.0,538.8 1889.6,538.8 1891.2,538.8 1892.8,538.8 1894.4,538.8 1896.0,538.8 1897.6,538.8 1899.2,538.8 1900.8,538.8 1902.4,538.8 1904.0,538.8 1905.6,538.8 1907.2,538.8 1908.8,538.8 1910.4,538.8 1912.0,538.7 1913.6,538.7 1915.2,538.7 1916.8,538.7 1918.4,538.7 1920.0,538.6 1921.6,538.6 1923.2,538.6 1924.8,538.6 1926.4,538.6 1928.0,538.5 1929.6,538.5 1931.2,538.5 1932.8,538.5 1934.4,538.5 1936.0,538.4 1937.6,538.4 1939.2,538.4 1940.8,538.4 1942.4,538.4 1944.0,538.4 1945.6,538.4 1947.2,538.4 1948.8,538.3 1950.4,538.3 1952.0,538.3 1953.6,538.4 1955.2,538.4 1956.8,538.4 1958.4,538.4 1960.0,538.4 1961.6,538.5 1963.2,538.5 1964.8,538.6 1966.4,538.7 1968.0,538.8 1969.6,538.9 1971.2,539.0 1972.8,539.2 1974.4,539.5 1976.0,539.9 1977.6,540.6 1979.2,541.4 1980.8,542.3 1982.4,543.4 1984.0,544.5 1985.6,545.7 1987.2,546.9 1988.8,548.1 1990.4,549.3 1992.0,550.5 1993.6,551.7 1995.2,552.9 1996.8,554.1 1998.4,555.4 2000.0,556.7 2001.6,558.0 2003.2,559.3 2004.8,560.8 2006.4,562.2 2008.0,563.8 2009.6,565.3 2011.2,567.0 2012.8,568.6 2014.4,570.4 2016.0,572.1 2017.6,574.0 2019.2,575.8 2020.8,577.8 2022.4,579.8 2024.0,581.9 2025.6,584.0 2027.2,586.3 2028.8,588.6 2030.4,591.1 2032.0,593.6 2033.6,596.2 2035.2,598.8 2036.8,601.6 2038.4,604.4 2040.0,607.2 2041.6,610.2 2043.2,613.2 2044.8,616.4 2046.4,619.6 2048.0,622.9 2049.6,626.3 2051.2,629.6 2052.8,633.0 2054.4,636.3 2056.0,639.7 2057.6,643.2 2059.2,646.6 2060.8,650.2 2062.4,653.7 2064.0,657.1 2065.6,660.6 2067.2,663.9 2068.8,667.3 2070.4,670.8 2072.0,674.3 2073.6,677.7 2075.2,681.0 2076.8,684.1 2078.4,686.9 2080.0,689.5 2081.6,691.9 2083.2,694.2 2084.8,696.4 2086.4,698.3 2088.0,700.0 2089.6,701.3 2091.2,702.4 2092.8,703.2 2094.4,703.8 2096.0,704.2 2097.6,704.4 2099.2,704.5 2100.8,704.3 2102.4,704.0 2104.0,703.5 2105.6,702.8 2107.2,701.9 2108.8,700.6 2110.4,698.8 2112.0,695.6 2113.6,690.3 2115.2,682.6 2116.8,675.0 2118.4,665.8 2120.0,654.5 2121.6,642.7 2123.2,629.8 2124.8,616.5 2126.4,605.1 2128.0,594.7 2129.6,585.3 2131.2,577.3 2132.8,570.1 2134.4,564.0 2136.0,559.5 2137.6,555.7 2139.2,552.0 2140.8,548.9 2142.4,546.3 2144.0,544.3 2145.6,542.8 2147.2,541.8 2148.8,541.0 2150.4,540.5 2152.0,540.1 2153.6,539.8 2155.2,539.6 2156.8,539.4 2158.4,539.3 2160.0,539.1 2161.6,539.0 2163.2,538.8 2164.8,538.6 2166.4,538.5 2168.0,538.4 2169.6,538.3 2171.2,538.3 2172.8,538.3 2174.4,538.2 2176.0,538.2 2177.6,538.2 2179.2,538.2 2180.8,538.2 2182.4,538.2 2184.0,538.2 2185.6,538.2 2187.2,538.1 2188.8,538.1 2190.4,538.1 2192.0,538.1 2193.6,538.1 2195.2,538.1 2196.8,538.1 2198.4,538.1 2200.0,538.1 2201.6,538.0 2203.2,538.0 2204.8,538.0 2206.4,538.0 2208.0,538.0 2209.6,538.0 2211.2,538.0 2212.8,538.0 2214.4,538.0 2216.0,538.0 2217.6,538.0 2219.2,538.0 2220.8,538.0 2222.4,538.0 2224.0,538.0 2225.6,538.0 2227.2,538.0 2228.8,538.0 2230.4,538.0 2232.0,538.0 2233.6,538.0 2235.2,538.0 2236.8,538.0 2238.4,538.0 2240.0,538.0 2241.6,538.0 2243.2,538.0 2244.8,538.0 2246.4,538.0 2248.0,538.0 2249.6,538.0 2251.2,538.0 2252.8,538.0 2254.4,538.0 2256.0,538.1 2257.6,538.1 2259.2,538.1 2260.8,538.1 2262.4,538.1 2264.0,538.1 2265.6,538.1 2267.2,538.1 2268.8,538.1 2270.4,538.1 2272.0,538.1 2273.6,538.1 2275.2,538.1 2276.8,538.1 2278.4,538.1 2280.0,538.1 2281.6,538.1 2283.2,538.1 2284.8,538.1 2286.4,538.2 2288.0,538.2 2289.6,538.2 2291.2,538.2 2292.8,538.2 2294.4,538.2 2296.0,538.2 2297.6,538.2 2299.2,538.2 2300.8,538.2 2302.4,538.2 2304.0,538.3 2305.6,538.3 2307.2,538.3 2308.8,538.3 2310.4,538.3 2312.0,538.3 2313.6,538.3 2315.2,538.4 2316.8,538.4 2318.4,538.4 2320.0,538.4 2321.6,538.4 2323.2,538.4 2324.8,538.5 2326.4,538.5 2328.0,538.5 2329.6,538.5 2331.2,538.5 2332.8,538.5 2334.4,538.6 2336.0,538.6 2337.6,538.6 2339.2,538.6 2340.8,538.6 2342.4,538.7 2344.0,538.7 2345.6,538.7 2347.2,538.7 2348.8,538.7 2350.4,538.8 2352.0,538.8 2353.6,538.8"/>
<path d="M176.00,624.90 C176.00,624.90 190.57,629.54 199.80,631.60 C212.29,634.38 229.54,636.40 244.40,639.00 C259.30,641.60 274.21,644.47 289.10,647.20 C303.98,649.93 318.80,653.05 333.70,655.40 C348.56,657.75 363.49,659.68 378.40,661.30 C393.26,662.91 408.12,664.03 423.00,665.10 C437.88,666.17 457.44,667.28 467.70,667.70 C473.08,667.92 474.63,667.75 480.00,668.00 C490.24,668.47 509.72,670.02 524.60,671.00 C539.49,671.98 555.90,673.06 569.30,673.90 C580.24,674.59 589.21,674.54 599.10,675.70 C609.04,676.87 618.86,679.65 628.80,680.90 C638.70,682.15 646.96,682.57 658.60,683.20 C675.03,684.08 696.68,684.49 718.10,685.00 C743.22,685.59 763.74,686.08 800.00,686.40 C871.67,687.02 1019.91,686.02 1120.00,686.50 C1208.47,686.92 1284.38,687.84 1370.00,688.80 C1460.45,689.82 1558.46,691.85 1649.00,692.50 C1734.88,693.12 1851.10,692.14 1900.00,692.80 C1920.20,693.07 1930.36,693.06 1942.80,693.90 C1952.47,694.55 1960.99,694.41 1968.50,696.70 C1974.99,698.68 1980.11,701.93 1985.60,705.70 C1991.55,709.79 1997.16,715.21 2002.70,720.70 C2008.59,726.54 2014.79,733.08 2019.80,739.90 C2024.73,746.62 2028.57,753.42 2032.60,761.30 C2037.21,770.32 2041.33,780.92 2045.50,791.30 C2049.91,802.28 2054.02,814.10 2058.30,825.50 C2062.58,836.90 2066.86,848.50 2071.20,859.70 C2075.42,870.59 2079.72,882.26 2084.00,891.80 C2087.56,899.74 2090.52,908.46 2094.70,913.20 C2097.60,916.49 2101.37,920.05 2104.30,919.60 C2107.49,919.11 2110.70,913.57 2112.90,908.90 C2115.94,902.46 2116.71,892.86 2118.20,883.30 C2120.07,871.34 2121.10,856.50 2122.50,842.60 C2123.97,828.00 2125.28,811.87 2126.80,797.70 C2128.17,784.92 2129.61,772.84 2131.10,761.30 C2132.45,750.81 2133.29,740.37 2135.30,731.30 C2137.02,723.52 2138.89,715.87 2141.80,710.00 C2144.15,705.26 2146.49,700.88 2150.30,698.20 C2154.25,695.42 2157.69,695.00 2165.30,693.90 C2187.66,690.66 2265.26,692.78 2300.00,692.80 C2321.91,692.81 2353.60,693.30 2353.60,693.30" stroke="#FF00FF" stroke-width="4" fill="none" stroke-linejoin="round"/>
<defs><marker id="dm" markerUnits="userSpaceOnUse" markerWidth="8" markerHeight="8" refX="4" refY="4" overflow="visible"><circle cx="4" cy="4" r="2.5" fill="#FF00FF"/></marker></defs>
<polyline fill="none" stroke="none" marker-start="url(#dm)" marker-mid="url(#dm)" marker-end="url(#dm)" points="176.0,624.9 177.6,625.4 179.2,625.9 180.8,626.4 182.4,626.9 184.0,627.3 185.6,627.8 187.2,628.3 188.8,628.7 190.4,629.2 192.0,629.6 193.6,630.1 195.2,630.5 196.8,630.9 198.4,631.3 200.0,631.6 201.6,632.0 203.2,632.3 204.8,632.6 206.4,632.9 208.0,633.2 209.6,633.5 211.2,633.8 212.8,634.0 214.4,634.3 216.0,634.6 217.6,634.8 219.2,635.1 220.8,635.3 222.4,635.5 224.0,635.8 225.6,636.0 227.2,636.3 228.8,636.5 230.4,636.8 232.0,637.0 233.6,637.2 235.2,637.5 236.8,637.7 238.4,638.0 240.0,638.3 241.6,638.5 243.2,638.8 244.8,639.1 246.4,639.4 248.0,639.6 249.6,639.9 251.2,640.2 252.8,640.5 254.4,640.8 256.0,641.1 257.6,641.4 259.2,641.7 260.8,642.0 262.4,642.2 264.0,642.5 265.6,642.8 267.2,643.1 268.8,643.4 270.4,643.7 272.0,644.0 273.6,644.3 275.2,644.6 276.8,644.9 278.4,645.2 280.0,645.5 281.6,645.8 283.2,646.1 284.8,646.4 286.4,646.7 288.0,647.0 289.6,647.3 291.2,647.6 292.8,647.9 294.4,648.2 296.0,648.5 297.6,648.8 299.2,649.1 300.8,649.4 302.4,649.7 304.0,650.0 305.6,650.3 307.2,650.6 308.8,650.9 310.4,651.3 312.0,651.6 313.6,651.9 315.2,652.2 316.8,652.5 318.4,652.8 320.0,653.1 321.6,653.3 323.2,653.6 324.8,653.9 326.4,654.2 328.0,654.5 329.6,654.7 331.2,655.0 332.8,655.3 334.4,655.5 336.0,655.8 337.6,656.0 339.2,656.3 340.8,656.5 342.4,656.7 344.0,657.0 345.6,657.2 347.2,657.4 348.8,657.6 350.4,657.9 352.0,658.1 353.6,658.3 355.2,658.5 356.8,658.7 358.4,658.9 360.0,659.1 361.6,659.3 363.2,659.5 364.8,659.7 366.4,659.9 368.0,660.1 369.6,660.3 371.2,660.5 372.8,660.7 374.4,660.9 376.0,661.0 377.6,661.2 379.2,661.4 380.8,661.6 382.4,661.7 384.0,661.9 385.6,662.0 387.2,662.2 388.8,662.4 390.4,662.5 392.0,662.6 393.6,662.8 395.2,662.9 396.8,663.1 398.4,663.2 400.0,663.3 401.6,663.5 403.2,663.6 404.8,663.7 406.4,663.9 408.0,664.0 409.6,664.1 411.2,664.2 412.8,664.4 414.4,664.5 416.0,664.6 417.6,664.7 419.2,664.8 420.8,664.9 422.4,665.1 424.0,665.2 425.6,665.3 427.2,665.4 428.8,665.5 430.4,665.6 432.0,665.7 433.6,665.8 435.2,665.9 436.8,666.0 438.4,666.1 440.0,666.2 441.6,666.3 443.2,666.4 444.8,666.5 446.4,666.6 448.0,666.7 449.6,666.8 451.2,666.9 452.8,667.0 454.4,667.1 456.0,667.1 457.6,667.2 459.2,667.3 460.8,667.4 462.4,667.5 464.0,667.5 465.6,667.6 467.2,667.7 468.8,667.7 470.4,667.8 472.0,667.8 473.6,667.8 475.2,667.9 476.8,667.9 478.4,667.9 480.0,668.0 481.6,668.1 483.2,668.2 484.8,668.3 486.4,668.4 488.0,668.5 489.6,668.6 491.2,668.7 492.8,668.8 494.4,668.9 496.0,669.0 497.6,669.1 499.2,669.2 500.8,669.3 502.4,669.4 504.0,669.6 505.6,669.7 507.2,669.8 508.8,669.9 510.4,670.0 512.0,670.1 513.6,670.2 515.2,670.4 516.8,670.5 518.4,670.6 520.0,670.7 521.6,670.8 523.2,670.9 524.8,671.0 526.4,671.1 528.0,671.2 529.6,671.3 531.2,671.4 532.8,671.5 534.4,671.6 536.0,671.7 537.6,671.9 539.2,672.0 540.8,672.1 542.4,672.2 544.0,672.3 545.6,672.4 547.2,672.5 548.8,672.6 550.4,672.7 552.0,672.8 553.6,672.9 555.2,673.0 556.8,673.1 558.4,673.2 560.0,673.3 561.6,673.4 563.2,673.5 564.8,673.6 566.4,673.7 568.0,673.8 569.6,673.9 571.2,674.0 572.8,674.1 574.4,674.2 576.0,674.3 577.6,674.3 579.2,674.4 580.8,674.5 582.4,674.5 584.0,674.6 585.6,674.7 587.2,674.7 588.8,674.8 590.4,674.9 592.0,675.0 593.6,675.2 595.2,675.3 596.8,675.4 598.4,675.6 600.0,675.8 601.6,676.0 603.2,676.3 604.8,676.5 606.4,676.8 608.0,677.1 609.6,677.4 611.2,677.7 612.8,678.0 614.4,678.4 616.0,678.7 617.6,679.0 619.2,679.3 620.8,679.6 622.4,679.9 624.0,680.2 625.6,680.4 627.2,680.7 628.8,680.9 630.4,681.1 632.0,681.3 633.6,681.5 635.2,681.6 636.8,681.8 638.4,681.9 640.0,682.1 641.6,682.2 643.2,682.3 644.8,682.4 646.4,682.5 648.0,682.6 649.6,682.7 651.2,682.8 652.8,682.9 654.4,683.0 656.0,683.1 657.6,683.1 659.2,683.2 660.8,683.3 662.4,683.4 664.0,683.5 665.6,683.5 667.2,683.6 668.8,683.7 670.4,683.7 672.0,683.8 673.6,683.8 675.2,683.9 676.8,684.0 678.4,684.0 680.0,684.1 681.6,684.1 683.2,684.1 684.8,684.2 686.4,684.2 688.0,684.3 689.6,684.3 691.2,684.4 692.8,684.4 694.4,684.4 696.0,684.5 697.6,684.5 699.2,684.6 700.8,684.6 702.4,684.6 704.0,684.7 705.6,684.7 707.2,684.7 708.8,684.8 710.4,684.8 712.0,684.9 713.6,684.9 715.2,684.9 716.8,685.0 718.4,685.0 720.0,685.0 721.6,685.1 723.2,685.1 724.8,685.2 726.4,685.2 728.0,685.2 729.6,685.3 731.2,685.3 732.8,685.3 734.4,685.4 736.0,685.4 737.6,685.4 739.2,685.5 740.8,685.5 742.4,685.6 744.0,685.6 745.6,685.6 747.2,685.7 748.8,685.7 750.4,685.7 752.0,685.7 753.6,685.8 755.2,685.8 756.8,685.8 758.4,685.9 760.0,685.9 761.6,685.9 763.2,685.9 764.8,686.0 766.4,686.0 768.0,686.0 769.6,686.0 771.2,686.1 772.8,686.1 774.4,686.1 776.0,686.1 777.6,686.2 779.2,686.2 780.8,686.2 782.4,686.2 784.0,686.2 785.6,686.3 787.2,686.3 788.8,686.3 790.4,686.3 792.0,686.3 793.6,686.3 795.2,686.4 796.8,686.4 798.4,686.4 800.0,686.4 801.6,686.4 803.2,686.4 804.8,686.4 806.4,686.4 808.0,686.5 809.6,686.5 811.2,686.5 812.8,686.5 814.4,686.5 816.0,686.5 817.6,686.5 819.2,686.5 820.8,686.5 822.4,686.5 824.0,686.5 825.6,686.5 827.2,686.6 828.8,686.6 830.4,686.6 832.0,686.6 833.6,686.6 835.2,686.6 836.8,686.6 838.4,686.6 840.0,686.6 841.6,686.6 843.2,686.6 844.8,686.6 846.4,686.6 848.0,686.6 849.6,686.6 851.2,686.6 852.8,686.6 854.4,686.6 856.0,686.6 857.6,686.6 859.2,686.6 860.8,686.6 862.4,686.6 864.0,686.6 865.6,686.6 867.2,686.6 868.8,686.6 870.4,686.6 872.0,686.6 873.6,686.6 875.2,686.6 876.8,686.6 878.4,686.6 880.0,686.6 881.6,686.6 883.2,686.6 884.8,686.6 886.4,686.6 888.0,686.6 889.6,686.6 891.2,686.6 892.8,686.6 894.4,686.6 896.0,686.6 897.6,686.6 899.2,686.6 900.8,686.6 902.4,686.6 904.0,686.6 905.6,686.6 907.2,686.6 908.8,686.6 910.4,686.6 912.0,686.6 913.6,686.6 915.2,686.6 916.8,686.6 918.4,686.6 920.0,686.6 921.6,686.6 923.2,686.6 924.8,686.5 926.4,686.5 928.0,686.5 929.6,686.5 931.2,686.5 932.8,686.5 934.4,686.5 936.0,686.5 937.6,686.5 939.2,686.5 940.8,686.5 942.4,686.5 944.0,686.5 945.6,686.5 947.2,686.5 948.8,686.5 950.4,686.5 952.0,686.5 953.6,686.5 955.2,686.5 956.8,686.5 958.4,686.5 960.0,686.5 961.6,686.5 963.2,686.5 964.8,686.5 966.4,686.5 968.0,686.5 969.6,686.5 971.2,686.5 972.8,686.5 974.4,686.5 976.0,686.5 977.6,686.4 979.2,686.4 980.8,686.4 982.4,686.4 984.0,686.4 985.6,686.4 987.2,686.4 988.8,686.4 990.4,686.4 992.0,686.4 993.6,686.4 995.2,686.4 996.8,686.4 998.4,686.4 1000.0,686.4 1001.6,686.4 1003.2,686.4 1004.8,686.4 1006.4,686.4 1008.0,686.4 1009.6,686.4 1011.2,686.4 1012.8,686.4 1014.4,686.4 1016.0,686.4 1017.6,686.4 1019.2,686.4 1020.8,686.4 1022.4,686.4 1024.0,686.4 1025.6,686.4 1027.2,686.4 1028.8,686.4 1030.4,686.4 1032.0,686.4 1033.6,686.4 1035.2,686.4 1036.8,686.4 1038.4,686.4 1040.0,686.4 1041.6,686.4 1043.2,686.4 1044.8,686.4 1046.4,686.4 1048.0,686.4 1049.6,686.4 1051.2,686.4 1052.8,686.4 1054.4,686.4 1056.0,686.4 1057.6,686.4 1059.2,686.4 1060.8,686.4 1062.4,686.4 1064.0,686.4 1065.6,686.4 1067.2,686.4 1068.8,686.4 1070.4,686.4 1072.0,686.4 1073.6,686.4 1075.2,686.4 1076.8,686.4 1078.4,686.4 1080.0,686.4 1081.6,686.4 1083.2,686.4 1084.8,686.4 1086.4,686.4 1088.0,686.4 1089.6,686.4 1091.2,686.4 1092.8,686.4 1094.4,686.4 1096.0,686.4 1097.6,686.4 1099.2,686.4 1100.8,686.4 1102.4,686.4 1104.0,686.4 1105.6,686.4 1107.2,686.4 1108.8,686.5 1110.4,686.5 1112.0,686.5 1113.6,686.5 1115.2,686.5 1116.8,686.5 1118.4,686.5 1120.0,686.5 1121.6,686.5 1123.2,686.5 1124.8,686.5 1126.4,686.5 1128.0,686.5 1129.6,686.5 1131.2,686.6 1132.8,686.6 1134.4,686.6 1136.0,686.6 1137.6,686.6 1139.2,686.6 1140.8,686.6 1142.4,686.6 1144.0,686.6 1145.6,686.6 1147.2,686.6 1148.8,686.7 1150.4,686.7 1152.0,686.7 1153.6,686.7 1155.2,686.7 1156.8,686.7 1158.4,686.7 1160.0,686.7 1161.6,686.7 1163.2,686.7 1164.8,686.8 1166.4,686.8 1168.0,686.8 1169.6,686.8 1171.2,686.8 1172.8,686.8 1174.4,686.8 1176.0,686.8 1177.6,686.9 1179.2,686.9 1180.8,686.9 1182.4,686.9 1184.0,686.9 1185.6,686.9 1187.2,686.9 1188.8,686.9 1190.4,686.9 1192.0,687.0 1193.6,687.0 1195.2,687.0 1196.8,687.0 1198.4,687.0 1200.0,687.0 1201.6,687.0 1203.2,687.1 1204.8,687.1 1206.4,687.1 1208.0,687.1 1209.6,687.1 1211.2,687.1 1212.8,687.1 1214.4,687.2 1216.0,687.2 1217.6,687.2 1219.2,687.2 1220.8,687.2 1222.4,687.2 1224.0,687.2 1225.6,687.3 1227.2,687.3 1228.8,687.3 1230.4,687.3 1232.0,687.3 1233.6,687.3 1235.2,687.3 1236.8,687.4 1238.4,687.4 1240.0,687.4 1241.6,687.4 1243.2,687.4 1244.8,687.4 1246.4,687.5 1248.0,687.5 1249.6,687.5 1251.2,687.5 1252.8,687.5 1254.4,687.5 1256.0,687.5 1257.6,687.6 1259.2,687.6 1260.8,687.6 1262.4,687.6 1264.0,687.6 1265.6,687.6 1267.2,687.7 1268.8,687.7 1270.4,687.7 1272.0,687.7 1273.6,687.7 1275.2,687.7 1276.8,687.8 1278.4,687.8 1280.0,687.8 1281.6,687.8 1283.2,687.8 1284.8,687.8 1286.4,687.9 1288.0,687.9 1289.6,687.9 1291.2,687.9 1292.8,687.9 1294.4,688.0 1296.0,688.0 1297.6,688.0 1299.2,688.0 1300.8,688.0 1302.4,688.0 1304.0,688.1 1305.6,688.1 1307.2,688.1 1308.8,688.1 1310.4,688.1 1312.0,688.1 1313.6,688.2 1315.2,688.2 1316.8,688.2 1318.4,688.2 1320.0,688.2 1321.6,688.3 1323.2,688.3 1324.8,688.3 1326.4,688.3 1328.0,688.3 1329.6,688.3 1331.2,688.4 1332.8,688.4 1334.4,688.4 1336.0,688.4 1337.6,688.4 1339.2,688.5 1340.8,688.5 1342.4,688.5 1344.0,688.5 1345.6,688.5 1347.2,688.5 1348.8,688.6 1350.4,688.6 1352.0,688.6 1353.6,688.6 1355.2,688.6 1356.8,688.7 1358.4,688.7 1360.0,688.7 1361.6,688.7 1363.2,688.7 1364.8,688.7 1366.4,688.8 1368.0,688.8 1369.6,688.8 1371.2,688.8 1372.8,688.8 1374.4,688.9 1376.0,688.9 1377.6,688.9 1379.2,688.9 1380.8,688.9 1382.4,688.9 1384.0,689.0 1385.6,689.0 1387.2,689.0 1388.8,689.0 1390.4,689.0 1392.0,689.1 1393.6,689.1 1395.2,689.1 1396.8,689.1 1398.4,689.1 1400.0,689.2 1401.6,689.2 1403.2,689.2 1404.8,689.2 1406.4,689.3 1408.0,689.3 1409.6,689.3 1411.2,689.3 1412.8,689.3 1414.4,689.4 1416.0,689.4 1417.6,689.4 1419.2,689.4 1420.8,689.5 1422.4,689.5 1424.0,689.5 1425.6,689.5 1427.2,689.5 1428.8,689.6 1430.4,689.6 1432.0,689.6 1433.6,689.6 1435.2,689.7 1436.8,689.7 1438.4,689.7 1440.0,689.7 1441.6,689.8 1443.2,689.8 1444.8,689.8 1446.4,689.8 1448.0,689.9 1449.6,689.9 1451.2,689.9 1452.8,689.9 1454.4,689.9 1456.0,690.0 1457.6,690.0 1459.2,690.0 1460.8,690.0 1462.4,690.1 1464.0,690.1 1465.6,690.1 1467.2,690.1 1468.8,690.2 1470.4,690.2 1472.0,690.2 1473.6,690.2 1475.2,690.3 1476.8,690.3 1478.4,690.3 1480.0,690.3 1481.6,690.4 1483.2,690.4 1484.8,690.4 1486.4,690.4 1488.0,690.5 1489.6,690.5 1491.2,690.5 1492.8,690.5 1494.4,690.6 1496.0,690.6 1497.6,690.6 1499.2,690.6 1500.8,690.7 1502.4,690.7 1504.0,690.7 1505.6,690.7 1507.2,690.8 1508.8,690.8 1510.4,690.8 1512.0,690.8 1513.6,690.9 1515.2,690.9 1516.8,690.9 1518.4,690.9 1520.0,690.9 1521.6,691.0 1523.2,691.0 1524.8,691.0 1526.4,691.0 1528.0,691.1 1529.6,691.1 1531.2,691.1 1532.8,691.1 1534.4,691.2 1536.0,691.2 1537.6,691.2 1539.2,691.2 1540.8,691.3 1542.4,691.3 1544.0,691.3 1545.6,691.3 1547.2,691.3 1548.8,691.4 1550.4,691.4 1552.0,691.4 1553.6,691.4 1555.2,691.5 1556.8,691.5 1558.4,691.5 1560.0,691.5 1561.6,691.5 1563.2,691.6 1564.8,691.6 1566.4,691.6 1568.0,691.6 1569.6,691.7 1571.2,691.7 1572.8,691.7 1574.4,691.7 1576.0,691.7 1577.6,691.8 1579.2,691.8 1580.8,691.8 1582.4,691.8 1584.0,691.8 1585.6,691.9 1587.2,691.9 1588.8,691.9 1590.4,691.9 1592.0,691.9 1593.6,692.0 1595.2,692.0 1596.8,692.0 1598.4,692.0 1600.0,692.0 1601.6,692.1 1603.2,692.1 1604.8,692.1 1606.4,692.1 1608.0,692.1 1609.6,692.1 1611.2,692.2 1612.8,692.2 1614.4,692.2 1616.0,692.2 1617.6,692.2 1619.2,692.2 1620.8,692.3 1622.4,692.3 1624.0,692.3 1625.6,692.3 1627.2,692.3 1628.8,692.3 1630.4,692.3 1632.0,692.4 1633.6,692.4 1635.2,692.4 1636.8,692.4 1638.4,692.4 1640.0,692.4 1641.6,692.4 1643.2,692.5 1644.8,692.5 1646.4,692.5 1648.0,692.5 1649.6,692.5 1651.2,692.5 1652.8,692.5 1654.4,692.5 1656.0,692.5 1657.6,692.6 1659.2,692.6 1660.8,692.6 1662.4,692.6 1664.0,692.6 1665.6,692.6 1667.2,692.6 1668.8,692.6 1670.4,692.6 1672.0,692.6 1673.6,692.6 1675.2,692.6 1676.8,692.6 1678.4,692.7 1680.0,692.7 1681.6,692.7 1683.2,692.7 1684.8,692.7 1686.4,692.7 1688.0,692.7 1689.6,692.7 1691.2,692.7 1692.8,692.7 1694.4,692.7 1696.0,692.7 1697.6,692.7 1699.2,692.7 1700.8,692.7 1702.4,692.7 1704.0,692.7 1705.6,692.7 1707.2,692.7 1708.8,692.7 1710.4,692.7 1712.0,692.7 1713.6,692.7 1715.2,692.7 1716.8,692.7 1718.4,692.7 1720.0,692.7 1721.6,692.7 1723.2,692.7 1724.8,692.7 1726.4,692.7 1728.0,692.7 1729.6,692.7 1731.2,692.7 1732.8,692.7 1734.4,692.7 1736.0,692.7 1737.6,692.7 1739.2,692.7 1740.8,692.7 1742.4,692.7 1744.0,692.7 1745.6,692.7 1747.2,692.7 1748.8,692.7 1750.4,692.7 1752.0,692.7 1753.6,692.7 1755.2,692.7 1756.8,692.7 1758.4,692.7 1760.0,692.7 1761.6,692.7 1763.2,692.7 1764.8,692.7 1766.4,692.7 1768.0,692.7 1769.6,692.7 1771.2,692.7 1772.8,692.7 1774.4,692.7 1776.0,692.7 1777.6,692.7 1779.2,692.7 1780.8,692.6 1782.4,692.6 1784.0,692.6 1785.6,692.6 1787.2,692.6 1788.8,692.6 1790.4,692.6 1792.0,692.6 1793.6,692.6 1795.2,692.6 1796.8,692.6 1798.4,692.6 1800.0,692.6 1801.6,692.6 1803.2,692.6 1804.8,692.6 1806.4,692.6 1808.0,692.6 1809.6,692.6 1811.2,692.6 1812.8,692.6 1814.4,692.6 1816.0,692.6 1817.6,692.6 1819.2,692.6 1820.8,692.6 1822.4,692.6 1824.0,692.6 1825.6,692.6 1827.2,692.6 1828.8,692.6 1830.4,692.6 1832.0,692.6 1833.6,692.6 1835.2,692.6 1836.8,692.6 1838.4,692.6 1840.0,692.6 1841.6,692.6 1843.2,692.6 1844.8,692.6 1846.4,692.6 1848.0,692.6 1849.6,692.6 1851.2,692.6 1852.8,692.6 1854.4,692.6 1856.0,692.6 1857.6,692.6 1859.2,692.6 1860.8,692.6 1862.4,692.6 1864.0,692.6 1865.6,692.6 1867.2,692.6 1868.8,692.6 1870.4,692.6 1872.0,692.6 1873.6,692.6 1875.2,692.6 1876.8,692.6 1878.4,692.6 1880.0,692.6 1881.6,692.6 1883.2,692.6 1884.8,692.7 1886.4,692.7 1888.0,692.7 1889.6,692.7 1891.2,692.7 1892.8,692.7 1894.4,692.7 1896.0,692.8 1897.6,692.8 1899.2,692.8 1900.8,692.8 1902.4,692.8 1904.0,692.9 1905.6,692.9 1907.2,692.9 1908.8,692.9 1910.4,692.9 1912.0,692.9 1913.6,693.0 1915.2,693.0 1916.8,693.0 1918.4,693.0 1920.0,693.1 1921.6,693.1 1923.2,693.1 1924.8,693.1 1926.4,693.2 1928.0,693.2 1929.6,693.3 1931.2,693.3 1932.8,693.4 1934.4,693.4 1936.0,693.5 1937.6,693.6 1939.2,693.7 1940.8,693.8 1942.4,693.9 1944.0,694.0 1945.6,694.1 1947.2,694.2 1948.8,694.2 1950.4,694.3 1952.0,694.4 1953.6,694.5 1955.2,694.6 1956.8,694.7 1958.4,694.9 1960.0,695.0 1961.6,695.2 1963.2,695.5 1964.8,695.8 1966.4,696.1 1968.0,696.6 1969.6,697.1 1971.2,697.6 1972.8,698.3 1974.4,699.0 1976.0,699.8 1977.6,700.6 1979.2,701.5 1980.8,702.5 1982.4,703.5 1984.0,704.6 1985.6,705.7 1987.2,706.8 1988.8,708.0 1990.4,709.3 1992.0,710.7 1993.6,712.0 1995.2,713.5 1996.8,715.0 1998.4,716.5 2000.0,718.0 2001.6,719.6 2003.2,721.2 2004.8,722.8 2006.4,724.4 2008.0,726.1 2009.6,727.8 2011.2,729.5 2012.8,731.3 2014.4,733.1 2016.0,735.0 2017.6,737.0 2019.2,739.1 2020.8,741.3 2022.4,743.6 2024.0,746.0 2025.6,748.6 2027.2,751.3 2028.8,754.1 2030.4,757.1 2032.0,760.1 2033.6,763.3 2035.2,766.6 2036.8,770.2 2038.4,773.9 2040.0,777.7 2041.6,781.6 2043.2,785.6 2044.8,789.6 2046.4,793.6 2048.0,797.7 2049.6,801.9 2051.2,806.2 2052.8,810.6 2054.4,814.9 2056.0,819.3 2057.6,823.6 2059.2,827.9 2060.8,832.2 2062.4,836.5 2064.0,840.7 2065.6,845.0 2067.2,849.2 2068.8,853.5 2070.4,857.6 2072.0,861.8 2073.6,865.9 2075.2,870.1 2076.8,874.3 2078.4,878.4 2080.0,882.4 2081.6,886.2 2083.2,890.0 2084.8,893.6 2086.4,897.4 2088.0,901.2 2089.6,904.7 2091.2,908.0 2092.8,910.7 2094.4,912.9 2096.0,914.6 2097.6,916.2 2099.2,917.6 2100.8,918.7 2102.4,919.4 2104.0,919.6 2105.6,919.1 2107.2,917.9 2108.8,916.0 2110.4,913.6 2112.0,910.7 2113.6,907.3 2115.2,901.9 2116.8,893.0 2118.4,882.0 2120.0,869.0 2121.6,852.1 2123.2,835.4 2124.8,818.2 2126.4,801.5 2128.0,786.8 2129.6,773.3 2131.2,760.5 2132.8,747.0 2134.4,735.9 2136.0,728.2 2137.6,721.7 2139.2,716.4 2140.8,712.2 2142.4,708.8 2144.0,705.8 2145.6,703.2 2147.2,701.1 2148.8,699.4 2150.4,698.1 2152.0,697.1 2153.6,696.4 2155.2,695.8 2156.8,695.3 2158.4,695.0 2160.0,694.7 2161.6,694.4 2163.2,694.2 2164.8,694.0 2166.4,693.8 2168.0,693.6 2169.6,693.4 2171.2,693.3 2172.8,693.1 2174.4,693.0 2176.0,692.9 2177.6,692.8 2179.2,692.8 2180.8,692.7 2182.4,692.6 2184.0,692.6 2185.6,692.5 2187.2,692.5 2188.8,692.4 2190.4,692.4 2192.0,692.3 2193.6,692.3 2195.2,692.3 2196.8,692.2 2198.4,692.2 2200.0,692.2 2201.6,692.2 2203.2,692.2 2204.8,692.1 2206.4,692.1 2208.0,692.1 2209.6,692.1 2211.2,692.1 2212.8,692.1 2214.4,692.1 2216.0,692.1 2217.6,692.1 2219.2,692.1 2220.8,692.1 2222.4,692.1 2224.0,692.1 2225.6,692.1 2227.2,692.1 2228.8,692.1 2230.4,692.1 2232.0,692.1 2233.6,692.2 2235.2,692.2 2236.8,692.2 2238.4,692.2 2240.0,692.2 2241.6,692.2 2243.2,692.2 2244.8,692.3 2246.4,692.3 2248.0,692.3 2249.6,692.3 2251.2,692.3 2252.8,692.3 2254.4,692.4 2256.0,692.4 2257.6,692.4 2259.2,692.4 2260.8,692.4 2262.4,692.4 2264.0,692.5 2265.6,692.5 2267.2,692.5 2268.8,692.5 2270.4,692.5 2272.0,692.6 2273.6,692.6 2275.2,692.6 2276.8,692.6 2278.4,692.6 2280.0,692.7 2281.6,692.7 2283.2,692.7 2284.8,692.7 2286.4,692.7 2288.0,692.7 2289.6,692.7 2291.2,692.8 2292.8,692.8 2294.4,692.8 2296.0,692.8 2297.6,692.8 2299.2,692.8 2300.8,692.8 2302.4,692.8 2304.0,692.8 2305.6,692.8 2307.2,692.8 2308.8,692.8 2310.4,692.8 2312.0,692.8 2313.6,692.9 2315.2,692.9 2316.8,692.9 2318.4,692.9 2320.0,692.9 2321.6,692.9 2323.2,692.9 2324.8,692.9 2326.4,693.0 2328.0,693.0 2329.6,693.0 2331.2,693.0 2332.8,693.0 2334.4,693.0 2336.0,693.1 2337.6,693.1 2339.2,693.1 2340.8,693.1 2342.4,693.1 2344.0,693.2 2345.6,693.2 2347.2,693.2 2348.8,693.2 2350.4,693.3 2352.0,693.3 2353.6,693.3"/>
<path d="M176.00,753.40 C176.00,753.40 190.61,757.16 199.80,759.30 C212.33,762.22 229.51,765.88 244.40,769.00 C259.28,772.12 274.18,775.26 289.10,778.00 C303.95,780.73 318.82,783.05 333.70,785.40 C348.58,787.75 363.48,790.36 378.40,792.10 C393.25,793.83 408.12,794.82 423.00,795.80 C437.88,796.78 451.90,797.15 467.70,798.00 C485.53,798.96 506.80,799.75 524.60,801.30 C540.42,802.68 554.39,804.90 569.30,806.50 C584.19,808.10 600.63,809.41 614.00,810.90 C624.92,812.12 632.07,813.76 643.70,814.60 C660.10,815.78 680.96,815.51 703.20,815.80 C731.56,816.17 760.25,815.99 800.00,816.40 C863.75,817.06 991.21,819.38 1049.00,820.00 C1079.86,820.33 1089.12,820.16 1120.00,820.50 C1177.94,821.13 1284.38,823.14 1370.00,824.20 C1460.45,825.32 1558.46,826.62 1649.00,827.00 C1734.88,827.36 1855.93,827.66 1900.00,826.60 C1915.77,826.22 1921.08,824.65 1932.10,825.10 C1943.87,825.58 1958.82,826.86 1968.50,829.80 C1975.48,831.92 1980.05,834.87 1985.60,838.30 C1991.47,841.93 1997.49,846.08 2002.70,851.20 C2008.26,856.66 2012.94,863.35 2017.70,870.40 C2022.96,878.18 2028.05,887.09 2032.60,896.10 C2037.35,905.49 2041.29,915.60 2045.50,925.70 C2049.86,936.15 2054.13,946.73 2058.30,957.80 C2062.71,969.49 2066.97,981.80 2071.20,994.10 C2075.54,1006.72 2079.68,1019.96 2084.00,1032.60 C2088.21,1044.92 2091.87,1058.86 2096.80,1069.00 C2100.69,1077.01 2105.87,1089.33 2109.70,1089.30 C2112.85,1089.27 2116.12,1081.17 2118.20,1075.40 C2121.03,1067.54 2121.28,1055.82 2122.50,1045.50 C2123.80,1034.50 2124.65,1022.88 2125.70,1011.30 C2126.78,999.36 2127.85,987.20 2128.90,974.90 C2129.98,962.25 2130.96,948.43 2132.10,936.40 C2133.11,925.77 2134.40,916.37 2135.30,906.40 C2136.20,896.51 2136.35,886.28 2137.50,876.80 C2138.57,867.93 2139.66,858.49 2141.80,851.20 C2143.49,845.42 2145.15,840.22 2148.20,836.20 C2151.00,832.51 2153.92,829.62 2158.90,827.60 C2166.77,824.41 2178.57,825.05 2193.10,824.40 C2218.48,823.26 2268.44,824.56 2297.90,824.80 C2319.38,824.98 2353.60,825.50 2353.60,825.50" stroke="#008000" stroke-width="4" fill="none" stroke-linejoin="round"/>
<defs><marker id="dg" markerUnits="userSpaceOnUse" markerWidth="8" markerHeight="8" refX="4" refY="4" overflow="visible"><circle cx="4" cy="4" r="3.55" fill="#008000"/></marker></defs>
<polyline fill="none" stroke="none" marker-start="url(#dg)" marker-mid="url(#dg)" marker-end="url(#dg)" points="176.0,753.4 178.0,753.9 180.1,754.4 182.1,755.0 184.1,755.5 186.2,756.0 188.2,756.5 190.2,757.0 192.2,757.5 194.3,758.0 196.3,758.5 198.3,759.0 200.4,759.4 202.4,759.9 204.4,760.4 206.5,760.8 208.5,761.3 210.5,761.7 212.5,762.2 214.6,762.6 216.6,763.1 218.6,763.5 220.7,764.0 222.7,764.4 224.7,764.8 226.8,765.3 228.8,765.7 230.8,766.1 232.8,766.6 234.9,767.0 236.9,767.4 238.9,767.9 241.0,768.3 243.0,768.7 245.0,769.1 247.1,769.6 249.1,770.0 251.1,770.4 253.1,770.8 255.2,771.3 257.2,771.7 259.2,772.1 261.3,772.5 263.3,772.9 265.3,773.4 267.3,773.8 269.4,774.2 271.4,774.6 273.4,775.0 275.5,775.4 277.5,775.8 279.5,776.2 281.6,776.6 283.6,777.0 285.6,777.4 287.6,777.7 289.7,778.1 291.7,778.5 293.7,778.8 295.8,779.2 297.8,779.6 299.8,779.9 301.9,780.3 303.9,780.6 305.9,780.9 307.9,781.3 310.0,781.6 312.0,781.9 314.0,782.3 316.1,782.6 318.1,782.9 320.1,783.3 322.2,783.6 324.2,783.9 326.2,784.2 328.2,784.5 330.3,784.9 332.3,785.2 334.3,785.5 336.4,785.8 338.4,786.1 340.4,786.5 342.5,786.8 344.5,787.1 346.5,787.5 348.5,787.8 350.6,788.1 352.6,788.4 354.6,788.8 356.7,789.1 358.7,789.4 360.7,789.7 362.8,790.0 364.8,790.3 366.8,790.6 368.8,790.9 370.9,791.2 372.9,791.4 374.9,791.7 377.0,791.9 379.0,792.2 381.0,792.4 383.1,792.6 385.1,792.8 387.1,793.0 389.1,793.2 391.2,793.4 393.2,793.6 395.2,793.8 397.3,794.0 399.3,794.1 401.3,794.3 403.4,794.4 405.4,794.6 407.4,794.7 409.4,794.9 411.5,795.0 413.5,795.2 415.5,795.3 417.6,795.4 419.6,795.6 421.6,795.7 423.7,795.8 425.7,796.0 427.7,796.1 429.7,796.2 431.8,796.3 433.8,796.4 435.8,796.5 437.9,796.6 439.9,796.7 441.9,796.8 444.0,796.9 446.0,797.0 448.0,797.1 450.0,797.2 452.1,797.3 454.1,797.3 456.1,797.4 458.2,797.5 460.2,797.6 462.2,797.7 464.3,797.8 466.3,797.9 468.3,798.0 470.3,798.1 472.4,798.2 474.4,798.3 476.4,798.4 478.5,798.5 480.5,798.6 482.5,798.7 484.6,798.8 486.6,798.9 488.6,799.0 490.6,799.1 492.7,799.2 494.7,799.4 496.7,799.5 498.8,799.6 500.8,799.7 502.8,799.8 504.9,799.9 506.9,800.0 508.9,800.2 510.9,800.3 513.0,800.4 515.0,800.6 517.0,800.7 519.1,800.8 521.1,801.0 523.1,801.2 525.2,801.3 527.2,801.5 529.2,801.7 531.2,801.9 533.3,802.2 535.3,802.4 537.3,802.6 539.4,802.8 541.4,803.1 543.4,803.3 545.5,803.6 547.5,803.8 549.5,804.1 551.5,804.4 553.6,804.6 555.6,804.9 557.6,805.1 559.7,805.4 561.7,805.6 563.7,805.9 565.8,806.1 567.8,806.3 569.8,806.6 571.8,806.8 573.9,807.0 575.9,807.2 577.9,807.4 580.0,807.6 582.0,807.8 584.0,808.0 586.1,808.2 588.1,808.4 590.1,808.5 592.1,808.7 594.2,808.9 596.2,809.1 598.2,809.3 600.3,809.5 602.3,809.7 604.3,809.9 606.4,810.1 608.4,810.3 610.4,810.5 612.4,810.7 614.5,811.0 616.5,811.2 618.5,811.5 620.6,811.7 622.6,812.0 624.6,812.3 626.7,812.6 628.7,812.9 630.7,813.2 632.7,813.5 634.8,813.7 636.8,814.0 638.8,814.2 640.9,814.4 642.9,814.5 644.9,814.7 647.0,814.8 649.0,814.9 651.0,815.0 653.0,815.1 655.1,815.2 657.1,815.3 659.1,815.3 661.2,815.4 663.2,815.4 665.2,815.4 667.3,815.5 669.3,815.5 671.3,815.5 673.3,815.6 675.4,815.6 677.4,815.6 679.4,815.6 681.5,815.6 683.5,815.6 685.5,815.6 687.6,815.7 689.6,815.7 691.6,815.7 693.6,815.7 695.7,815.7 697.7,815.7 699.7,815.8 701.8,815.8 703.8,815.8 705.8,815.8 707.9,815.9 709.9,815.9 711.9,815.9 713.9,815.9 716.0,815.9 718.0,815.9 720.0,816.0 722.1,816.0 724.1,816.0 726.1,816.0 728.2,816.0 730.2,816.0 732.2,816.0 734.2,816.0 736.3,816.0 738.3,816.1 740.3,816.1 742.4,816.1 744.4,816.1 746.4,816.1 748.5,816.1 750.5,816.1 752.5,816.1 754.5,816.1 756.6,816.1 758.6,816.1 760.6,816.1 762.7,816.1 764.7,816.1 766.7,816.2 768.8,816.2 770.8,816.2 772.8,816.2 774.8,816.2 776.9,816.2 778.9,816.2 780.9,816.2 783.0,816.3 785.0,816.3 787.0,816.3 789.1,816.3 791.1,816.3 793.1,816.3 795.1,816.4 797.2,816.4 799.2,816.4 801.2,816.4 803.3,816.4 805.3,816.5 807.3,816.5 809.4,816.5 811.4,816.5 813.4,816.6 815.4,816.6 817.5,816.6 819.5,816.6 821.5,816.7 823.6,816.7 825.6,816.7 827.6,816.7 829.7,816.8 831.7,816.8 833.7,816.8 835.7,816.8 837.8,816.9 839.8,816.9 841.8,816.9 843.9,817.0 845.9,817.0 847.9,817.0 850.0,817.0 852.0,817.1 854.0,817.1 856.0,817.1 858.1,817.2 860.1,817.2 862.1,817.2 864.2,817.2 866.2,817.3 868.2,817.3 870.3,817.3 872.3,817.4 874.3,817.4 876.3,817.4 878.4,817.5 880.4,817.5 882.4,817.5 884.5,817.6 886.5,817.6 888.5,817.6 890.6,817.7 892.6,817.7 894.6,817.7 896.6,817.7 898.7,817.8 900.7,817.8 902.7,817.8 904.8,817.9 906.8,817.9 908.8,817.9 910.9,818.0 912.9,818.0 914.9,818.0 916.9,818.1 919.0,818.1 921.0,818.1 923.0,818.2 925.1,818.2 927.1,818.2 929.1,818.3 931.2,818.3 933.2,818.3 935.2,818.3 937.2,818.4 939.3,818.4 941.3,818.4 943.3,818.5 945.4,818.5 947.4,818.5 949.4,818.6 951.5,818.6 953.5,818.6 955.5,818.7 957.5,818.7 959.6,818.7 961.6,818.8 963.6,818.8 965.7,818.8 967.7,818.9 969.7,818.9 971.8,818.9 973.8,819.0 975.8,819.0 977.8,819.0 979.9,819.0 981.9,819.1 983.9,819.1 986.0,819.1 988.0,819.2 990.0,819.2 992.1,819.2 994.1,819.3 996.1,819.3 998.1,819.3 1000.2,819.4 1002.2,819.4 1004.2,819.4 1006.3,819.4 1008.3,819.5 1010.3,819.5 1012.4,819.5 1014.4,819.6 1016.4,819.6 1018.4,819.6 1020.5,819.6 1022.5,819.7 1024.5,819.7 1026.6,819.7 1028.6,819.8 1030.6,819.8 1032.7,819.8 1034.7,819.8 1036.7,819.9 1038.7,819.9 1040.8,819.9 1042.8,819.9 1044.8,820.0 1046.9,820.0 1048.9,820.0 1050.9,820.0 1053.0,820.0 1055.0,820.1 1057.0,820.1 1059.0,820.1 1061.1,820.1 1063.1,820.1 1065.1,820.1 1067.2,820.2 1069.2,820.2 1071.2,820.2 1073.3,820.2 1075.3,820.2 1077.3,820.2 1079.3,820.2 1081.4,820.2 1083.4,820.2 1085.4,820.3 1087.5,820.3 1089.5,820.3 1091.5,820.3 1093.6,820.3 1095.6,820.3 1097.6,820.3 1099.6,820.3 1101.7,820.3 1103.7,820.3 1105.7,820.4 1107.8,820.4 1109.8,820.4 1111.8,820.4 1113.9,820.4 1115.9,820.5 1117.9,820.5 1119.9,820.5 1122.0,820.5 1124.0,820.5 1126.0,820.6 1128.1,820.6 1130.1,820.6 1132.1,820.6 1134.2,820.7 1136.2,820.7 1138.2,820.7 1140.2,820.7 1142.3,820.8 1144.3,820.8 1146.3,820.8 1148.4,820.9 1150.4,820.9 1152.4,820.9 1154.5,820.9 1156.5,821.0 1158.5,821.0 1160.5,821.0 1162.6,821.1 1164.6,821.1 1166.6,821.1 1168.7,821.2 1170.7,821.2 1172.7,821.2 1174.8,821.2 1176.8,821.3 1178.8,821.3 1180.8,821.3 1182.9,821.4 1184.9,821.4 1186.9,821.4 1189.0,821.5 1191.0,821.5 1193.0,821.5 1195.1,821.6 1197.1,821.6 1199.1,821.6 1201.1,821.7 1203.2,821.7 1205.2,821.7 1207.2,821.8 1209.3,821.8 1211.3,821.8 1213.3,821.8 1215.4,821.9 1217.4,821.9 1219.4,821.9 1221.4,822.0 1223.5,822.0 1225.5,822.0 1227.5,822.1 1229.6,822.1 1231.6,822.1 1233.6,822.2 1235.7,822.2 1237.7,822.2 1239.7,822.3 1241.7,822.3 1243.8,822.3 1245.8,822.4 1247.8,822.4 1249.9,822.4 1251.9,822.5 1253.9,822.5 1256.0,822.5 1258.0,822.6 1260.0,822.6 1262.0,822.6 1264.1,822.7 1266.1,822.7 1268.1,822.7 1270.2,822.8 1272.2,822.8 1274.2,822.8 1276.3,822.9 1278.3,822.9 1280.3,822.9 1282.3,822.9 1284.4,823.0 1286.4,823.0 1288.4,823.0 1290.5,823.1 1292.5,823.1 1294.5,823.1 1296.6,823.2 1298.6,823.2 1300.6,823.2 1302.6,823.3 1304.7,823.3 1306.7,823.3 1308.7,823.4 1310.8,823.4 1312.8,823.4 1314.8,823.4 1316.9,823.5 1318.9,823.5 1320.9,823.5 1322.9,823.6 1325.0,823.6 1327.0,823.6 1329.0,823.6 1331.1,823.7 1333.1,823.7 1335.1,823.7 1337.2,823.8 1339.2,823.8 1341.2,823.8 1343.2,823.8 1345.3,823.9 1347.3,823.9 1349.3,823.9 1351.4,824.0 1353.4,824.0 1355.4,824.0 1357.5,824.0 1359.5,824.1 1361.5,824.1 1363.5,824.1 1365.6,824.1 1367.6,824.2 1369.6,824.2 1371.7,824.2 1373.7,824.2 1375.7,824.3 1377.8,824.3 1379.8,824.3 1381.8,824.3 1383.8,824.4 1385.9,824.4 1387.9,824.4 1389.9,824.4 1392.0,824.5 1394.0,824.5 1396.0,824.5 1398.1,824.5 1400.1,824.6 1402.1,824.6 1404.1,824.6 1406.2,824.7 1408.2,824.7 1410.2,824.7 1412.3,824.7 1414.3,824.8 1416.3,824.8 1418.4,824.8 1420.4,824.8 1422.4,824.9 1424.4,824.9 1426.5,824.9 1428.5,824.9 1430.5,825.0 1432.6,825.0 1434.6,825.0 1436.6,825.0 1438.7,825.1 1440.7,825.1 1442.7,825.1 1444.7,825.1 1446.8,825.2 1448.8,825.2 1450.8,825.2 1452.9,825.2 1454.9,825.2 1456.9,825.3 1459.0,825.3 1461.0,825.3 1463.0,825.3 1465.0,825.4 1467.1,825.4 1469.1,825.4 1471.1,825.4 1473.2,825.5 1475.2,825.5 1477.2,825.5 1479.3,825.5 1481.3,825.6 1483.3,825.6 1485.3,825.6 1487.4,825.6 1489.4,825.7 1491.4,825.7 1493.5,825.7 1495.5,825.7 1497.5,825.7 1499.6,825.8 1501.6,825.8 1503.6,825.8 1505.6,825.8 1507.7,825.9 1509.7,825.9 1511.7,825.9 1513.8,825.9 1515.8,825.9 1517.8,826.0 1519.9,826.0 1521.9,826.0 1523.9,826.0 1525.9,826.1 1528.0,826.1 1530.0,826.1 1532.0,826.1 1534.1,826.1 1536.1,826.2 1538.1,826.2 1540.2,826.2 1542.2,826.2 1544.2,826.2 1546.2,826.3 1548.3,826.3 1550.3,826.3 1552.3,826.3 1554.4,826.3 1556.4,826.4 1558.4,826.4 1560.5,826.4 1562.5,826.4 1564.5,826.4 1566.5,826.4 1568.6,826.5 1570.6,826.5 1572.6,826.5 1574.7,826.5 1576.7,826.5 1578.7,826.5 1580.8,826.6 1582.8,826.6 1584.8,826.6 1586.8,826.6 1588.9,826.6 1590.9,826.6 1592.9,826.7 1595.0,826.7 1597.0,826.7 1599.0,826.7 1601.1,826.7 1603.1,826.7 1605.1,826.8 1607.1,826.8 1609.2,826.8 1611.2,826.8 1613.2,826.8 1615.3,826.8 1617.3,826.8 1619.3,826.8 1621.4,826.9 1623.4,826.9 1625.4,826.9 1627.4,826.9 1629.5,826.9 1631.5,826.9 1633.5,826.9 1635.6,826.9 1637.6,826.9 1639.6,827.0 1641.7,827.0 1643.7,827.0 1645.7,827.0 1647.7,827.0 1649.8,827.0 1651.8,827.0 1653.8,827.0 1655.9,827.0 1657.9,827.0 1659.9,827.0 1662.0,827.1 1664.0,827.1 1666.0,827.1 1668.0,827.1 1670.1,827.1 1672.1,827.1 1674.1,827.1 1676.2,827.1 1678.2,827.1 1680.2,827.1 1682.3,827.1 1684.3,827.1 1686.3,827.1 1688.3,827.1 1690.4,827.2 1692.4,827.2 1694.4,827.2 1696.5,827.2 1698.5,827.2 1700.5,827.2 1702.6,827.2 1704.6,827.2 1706.6,827.2 1708.6,827.2 1710.7,827.2 1712.7,827.2 1714.7,827.2 1716.8,827.2 1718.8,827.2 1720.8,827.2 1722.9,827.2 1724.9,827.3 1726.9,827.3 1728.9,827.3 1731.0,827.3 1733.0,827.3 1735.0,827.3 1737.1,827.3 1739.1,827.3 1741.1,827.3 1743.2,827.3 1745.2,827.3 1747.2,827.3 1749.2,827.3 1751.3,827.3 1753.3,827.3 1755.3,827.3 1757.4,827.3 1759.4,827.3 1761.4,827.3 1763.5,827.3 1765.5,827.3 1767.5,827.3 1769.5,827.3 1771.6,827.3 1773.6,827.3 1775.6,827.3 1777.7,827.3 1779.7,827.3 1781.7,827.3 1783.8,827.3 1785.8,827.3 1787.8,827.3 1789.8,827.3 1791.9,827.3 1793.9,827.3 1795.9,827.3 1798.0,827.3 1800.0,827.3 1802.0,827.3 1804.1,827.3 1806.1,827.3 1808.1,827.3 1810.1,827.3 1812.2,827.3 1814.2,827.3 1816.2,827.3 1818.3,827.3 1820.3,827.3 1822.3,827.3 1824.4,827.3 1826.4,827.3 1828.4,827.3 1830.4,827.3 1832.5,827.3 1834.5,827.3 1836.5,827.2 1838.6,827.2 1840.6,827.2 1842.6,827.2 1844.7,827.2 1846.7,827.2 1848.7,827.2 1850.7,827.2 1852.8,827.2 1854.8,827.2 1856.8,827.1 1858.9,827.1 1860.9,827.1 1862.9,827.1 1865.0,827.1 1867.0,827.1 1869.0,827.1 1871.0,827.0 1873.1,827.0 1875.1,827.0 1877.1,827.0 1879.2,826.9 1881.2,826.9 1883.2,826.9 1885.3,826.9 1887.3,826.8 1889.3,826.8 1891.3,826.8 1893.4,826.7 1895.4,826.7 1897.4,826.7 1899.5,826.6 1901.5,826.6 1903.5,826.5 1905.6,826.4 1907.6,826.3 1909.6,826.2 1911.6,826.0 1913.7,825.9 1915.7,825.7 1917.7,825.5 1919.8,825.4 1921.8,825.2 1923.8,825.1 1925.9,825.1 1927.9,825.0 1929.9,825.0 1931.9,825.1 1934.0,825.2 1936.0,825.3 1938.0,825.4 1940.1,825.5 1942.1,825.7 1944.1,825.8 1946.2,826.0 1948.2,826.2 1950.2,826.4 1952.2,826.7 1954.3,826.9 1956.3,827.2 1958.3,827.5 1960.4,827.9 1962.4,828.3 1964.4,828.7 1966.5,829.2 1968.5,829.8 1970.5,830.5 1972.5,831.2 1974.6,832.1 1976.6,833.1 1978.6,834.1 1980.7,835.3 1982.7,836.5 1984.7,837.8 1986.8,839.0 1988.8,840.3 1990.8,841.7 1992.8,843.1 1994.9,844.5 1996.9,846.1 1998.9,847.8 2001.0,849.6 2003.0,851.5 2005.0,853.6 2007.1,855.9 2009.1,858.4 2011.1,861.0 2013.1,863.8 2015.2,866.7 2017.2,869.7 2019.2,872.7 2021.3,875.9 2023.3,879.2 2025.3,882.6 2027.4,886.2 2029.4,889.9 2031.4,893.8 2033.4,897.8 2035.5,902.1 2037.5,906.6 2039.5,911.3 2041.6,916.2 2043.6,921.1 2045.6,926.0 2047.7,930.9 2049.7,935.9 2051.7,940.9 2053.7,946.0 2055.8,951.2 2057.8,956.5 2059.8,961.9 2061.9,967.5 2063.9,973.1 2065.9,978.9 2068.0,984.7 2070.0,990.6 2072.0,996.5 2074.0,1002.5 2076.1,1008.7 2078.1,1014.9 2080.1,1021.1 2082.2,1027.2 2084.2,1033.2 2086.2,1039.4 2088.3,1045.8 2090.3,1052.1 2092.3,1058.1 2094.3,1063.4 2096.4,1068.1 2098.4,1072.4 2100.4,1076.6 2102.5,1080.7 2104.5,1084.3 2106.5,1087.2 2108.6,1089.0 2110.6,1089.1 2112.6,1087.3 2114.6,1083.9 2116.7,1079.4 2118.7,1073.8 2120.7,1063.2 2122.8,1043.1 2124.8,1021.6 2126.8,998.7 2128.9,975.4 2130.9,950.3 2132.9,928.4 2134.9,910.1 2137.0,881.8 2139.0,865.0 2141.0,854.0 2143.1,847.0 2145.1,841.6 2147.1,837.7 2149.2,835.0 2151.2,832.7 2153.2,830.9 2155.2,829.4 2157.3,828.3 2159.3,827.4 2161.3,826.8 2163.4,826.3 2165.4,825.9 2167.4,825.6 2169.5,825.3 2171.5,825.2 2173.5,825.0 2175.5,824.9 2177.6,824.9 2179.6,824.8 2181.6,824.8 2183.7,824.7 2185.7,824.7 2187.7,824.6 2189.8,824.5 2191.8,824.5 2193.8,824.4 2195.8,824.3 2197.9,824.2 2199.9,824.2 2201.9,824.1 2204.0,824.1 2206.0,824.0 2208.0,824.0 2210.1,824.0 2212.1,824.0 2214.1,824.0 2216.1,823.9 2218.2,823.9 2220.2,823.9 2222.2,823.9 2224.3,823.9 2226.3,823.9 2228.3,824.0 2230.4,824.0 2232.4,824.0 2234.4,824.0 2236.4,824.0 2238.5,824.0 2240.5,824.0 2242.5,824.1 2244.6,824.1 2246.6,824.1 2248.6,824.1 2250.7,824.2 2252.7,824.2 2254.7,824.2 2256.7,824.2 2258.8,824.3 2260.8,824.3 2262.8,824.3 2264.9,824.4 2266.9,824.4 2268.9,824.4 2271.0,824.5 2273.0,824.5 2275.0,824.5 2277.0,824.5 2279.1,824.6 2281.1,824.6 2283.1,824.6 2285.2,824.7 2287.2,824.7 2289.2,824.7 2291.3,824.7 2293.3,824.8 2295.3,824.8 2297.4,824.8 2299.4,824.8 2301.4,824.8 2303.4,824.9 2305.5,824.9 2307.5,824.9 2309.5,824.9 2311.6,824.9 2313.6,825.0 2315.6,825.0 2317.7,825.0 2319.7,825.0 2321.7,825.1 2323.7,825.1 2325.8,825.1 2327.8,825.1 2329.8,825.2 2331.9,825.2 2333.9,825.2 2335.9,825.2 2338.0,825.3 2340.0,825.3 2342.0,825.3 2344.0,825.4 2346.1,825.4 2348.1,825.4 2350.1,825.4 2352.2,825.5"/>
<path d="M176.00,840.70 C176.00,840.70 181.04,842.73 184.90,844.10 C191.88,846.57 204.67,850.70 214.60,853.80 C224.51,856.90 234.45,859.85 244.40,862.70 C254.32,865.55 264.25,868.28 274.20,870.90 C284.12,873.51 294.04,876.28 304.00,878.40 C313.87,880.50 323.77,882.12 333.70,883.60 C343.61,885.08 352.55,886.31 363.50,887.30 C376.85,888.50 393.22,889.05 408.10,889.80 C422.99,890.55 438.58,891.20 452.80,891.80 C465.77,892.35 474.64,892.50 490.00,893.30 C515.02,894.60 550.75,897.45 588.60,899.60 C639.91,902.51 710.74,906.28 770.00,908.60 C826.91,910.83 881.59,911.60 937.40,913.40 C993.23,915.20 1049.07,917.45 1104.90,919.40 C1160.71,921.35 1223.97,923.19 1272.30,925.10 C1309.23,926.56 1340.16,928.34 1370.00,929.50 C1395.21,930.48 1419.73,930.82 1439.80,931.80 C1455.04,932.54 1466.25,933.54 1480.00,934.40 C1494.48,935.31 1509.73,936.15 1524.60,937.10 C1539.49,938.05 1554.40,939.03 1569.30,940.10 C1584.20,941.17 1599.11,942.27 1614.00,943.50 C1628.88,944.73 1643.73,946.20 1658.60,947.50 C1673.47,948.80 1688.34,949.80 1703.20,951.30 C1718.10,952.80 1732.43,954.65 1747.90,956.50 C1764.60,958.50 1784.49,960.85 1800.00,962.90 C1812.55,964.56 1822.76,965.63 1834.00,967.70 C1845.23,969.77 1856.35,972.12 1867.40,975.30 C1878.65,978.53 1889.85,982.46 1900.90,987.00 C1912.19,991.64 1923.52,996.45 1934.40,1002.90 C1945.89,1009.72 1957.91,1018.39 1967.90,1027.20 C1977.31,1035.50 1985.72,1045.13 1993.00,1054.00 C1999.45,1061.85 2004.75,1069.54 2009.80,1077.40 C2014.60,1084.87 2019.02,1092.81 2022.70,1100.00 C2025.91,1106.26 2028.27,1111.99 2030.90,1118.00 C2033.50,1123.96 2035.90,1129.92 2038.40,1135.90 C2040.90,1141.89 2043.48,1147.64 2045.90,1153.90 C2048.49,1160.60 2050.81,1168.20 2053.40,1174.90 C2055.82,1181.16 2058.40,1186.91 2060.90,1192.90 C2063.40,1198.88 2065.94,1204.69 2068.40,1210.80 C2070.95,1217.14 2073.32,1224.10 2075.90,1230.30 C2078.30,1236.06 2080.76,1241.47 2083.30,1246.80 C2085.74,1251.92 2088.19,1257.06 2090.80,1261.70 C2093.21,1265.98 2095.42,1270.23 2098.30,1273.70 C2100.97,1276.93 2104.55,1279.35 2107.30,1282.00 C2109.72,1284.33 2112.20,1285.91 2114.00,1288.70 C2116.09,1291.95 2117.29,1296.32 2118.50,1300.70 C2119.88,1305.71 2120.66,1311.26 2121.50,1317.20 C2122.48,1324.08 2123.09,1331.42 2123.80,1339.60 C2124.65,1349.47 2125.16,1361.45 2126.10,1372.30 C2127.03,1383.08 2128.45,1393.75 2129.40,1404.50 C2130.35,1415.25 2131.00,1426.04 2131.80,1436.80 C2132.60,1447.54 2133.40,1458.26 2134.20,1469.00 C2135.00,1479.76 2135.67,1490.55 2136.60,1501.30 C2137.53,1512.05 2138.83,1523.04 2139.80,1533.50 C2140.72,1543.44 2141.21,1553.91 2142.30,1562.60 C2143.19,1569.71 2144.19,1575.95 2145.50,1581.90 C2146.65,1587.14 2148.19,1596.47 2149.50,1596.50 C2150.58,1596.53 2151.79,1590.96 2152.70,1586.80 C2154.24,1579.76 2155.06,1567.65 2156.00,1557.70 C2156.98,1547.25 2157.73,1536.25 2158.40,1525.50 C2159.07,1514.75 2159.60,1503.96 2160.00,1493.20 C2160.40,1482.46 2160.50,1472.34 2160.80,1461.00 C2161.13,1448.30 2161.50,1434.06 2161.90,1420.60 C2162.30,1407.16 2162.78,1393.73 2163.20,1380.30 C2163.62,1366.87 2164.05,1350.26 2164.40,1340.00 C2164.62,1333.65 2164.77,1331.08 2165.00,1324.60 C2165.40,1313.54 2166.13,1294.67 2166.50,1279.70 C2166.87,1264.73 2166.78,1249.76 2167.20,1234.80 C2167.62,1219.83 2168.37,1204.87 2169.00,1189.90 C2169.63,1174.91 2170.42,1159.89 2171.00,1144.90 C2171.58,1129.93 2171.95,1113.31 2172.50,1100.00 C2172.94,1089.34 2173.22,1081.50 2173.90,1071.20 C2174.68,1059.27 2175.98,1044.86 2177.10,1032.60 C2178.12,1021.43 2178.96,1010.66 2180.30,1000.60 C2181.51,991.54 2182.56,982.51 2184.60,974.90 C2186.31,968.53 2188.19,962.49 2191.00,957.80 C2193.36,953.86 2195.97,950.25 2199.50,948.10 C2203.08,945.92 2207.76,945.60 2212.40,944.90 C2217.66,944.10 2221.18,944.14 2229.50,943.90 C2251.89,943.25 2353.60,943.90 2353.60,943.90" stroke="#FF0000" stroke-width="4" fill="none" stroke-linejoin="round" stroke-linecap="butt"/>
<path d="M68.4,308.9 L68.4,200" stroke="#000" stroke-width="3" fill="none"/>
<path d="M68.5,157.9 L80,202.3 L57,202.3 Z" fill="#000" stroke="#000" stroke-width="1" stroke-linejoin="round"/>
<path d="M1891.9,159.5 L2122,159.5" stroke="#000" stroke-width="3" fill="none"/>
<path d="M2164,159.5 L2119.1,148 L2119.1,170.8 Z" fill="#000" stroke="#000" stroke-width="1" stroke-linejoin="round"/>
<g fill="#000" style="font-kerning:none" text-rendering="geometricPrecision">
<text transform="translate(309.73 203.80) scale(0.8960 1)" font-family="'Liberation Sans', Arial, sans-serif" font-weight="bold" font-size="69.62">PETG</text>
<text transform="translate(306.82 342.90) scale(0.8926 1)" font-family="'Liberation Sans', Arial, sans-serif" font-weight="bold" font-size="68.32">PETG<tspan font-size="64.22">/</tspan>PGA<tspan font-size="64.22">/</tspan>ADR <tspan font-size="64.22">(</tspan>65<tspan font-size="64.22">/</tspan>35<tspan font-size="64.22">/</tspan>0.9<tspan font-size="64.22">)</tspan></text>
<text transform="translate(306.82 481.90) scale(0.8926 1)" font-family="'Liberation Sans', Arial, sans-serif" font-weight="bold" font-size="68.32">PETG<tspan font-size="64.22">/</tspan>PGA<tspan font-size="64.22">/</tspan>ADR <tspan font-size="64.22">(</tspan>65<tspan font-size="64.22">/</tspan>35<tspan font-size="64.22">/</tspan>0.6<tspan font-size="64.22">)</tspan></text>
<text transform="translate(306.82 621.90) scale(0.8926 1)" font-family="'Liberation Sans', Arial, sans-serif" font-weight="bold" font-size="68.32">PETG<tspan font-size="64.22">/</tspan>PGA<tspan font-size="64.22">/</tspan>ADR <tspan font-size="64.22">(</tspan>65<tspan font-size="64.22">/</tspan>35<tspan font-size="64.22">/</tspan>0.3<tspan font-size="64.22">)</tspan></text>
<text transform="translate(306.81 751.90) scale(0.8939 1)" font-family="'Liberation Sans', Arial, sans-serif" font-weight="bold" font-size="68.32">PETG<tspan font-size="64.22">/</tspan>PGA <tspan font-size="64.22">(</tspan>65<tspan font-size="64.22">/</tspan>35<tspan font-size="64.22">)</tspan></text>
<text transform="translate(313.88 851.00) scale(0.9014 1)" font-family="'Liberation Sans', Arial, sans-serif" font-weight="bold" font-size="68.32">PGA</text>
<text transform="translate(1892.65 118.72) scale(1.2991 1)" font-family="NanumGothic, 'Liberation Sans', sans-serif" font-weight="bold" font-size="61.64">1</text>
<text transform="translate(1932.34 119.24) scale(0.9380 1)" font-family="'Liberation Sans', Arial, sans-serif" font-weight="bold" font-size="67.58">0</text>
<text transform="translate(1964.73 114.76) scale(1.0050 1)" font-family="'Liberation Serif', 'Times New Roman', serif" font-weight="bold" font-size="65.96">°</text>
<text transform="translate(1989.90 119.00) scale(0.9396 1)" font-family="'Liberation Serif', 'Times New Roman', serif" font-weight="bold" font-size="66.59">C/min</text>
<text transform="translate(342.38 1765.30) scale(0.9245 1)" font-family="'Liberation Sans', Arial, sans-serif" font-weight="normal" font-size="69.11">50</text>
<text transform="translate(827.16 1764.66) scale(1.1768 1)" font-family="NanumGothic, 'Liberation Sans', sans-serif" font-weight="normal" font-size="64.28">1</text>
<text transform="translate(866.51 1765.19) scale(0.9213 1)" font-family="'Liberation Sans', Arial, sans-serif" font-weight="normal" font-size="69.17">00</text>
<text transform="translate(1334.33 1764.66) scale(1.1686 1)" font-family="NanumGothic, 'Liberation Sans', sans-serif" font-weight="normal" font-size="64.28">1</text>
<text transform="translate(1374.48 1765.19) scale(0.9096 1)" font-family="'Liberation Sans', Arial, sans-serif" font-weight="normal" font-size="69.17">50</text>
<text transform="translate(1842.76 1765.13) scale(0.9438 1)" font-family="'Liberation Sans', Arial, sans-serif" font-weight="normal" font-size="68.95">200</text>
<text transform="translate(967.18 1890.90) scale(1.0000 1)" font-family="'Liberation Sans', Arial, sans-serif" font-weight="normal" font-size="84.16">T<tspan font-size="79.11">emperature(</tspan></text>
<text transform="translate(1452.85 1879.59) scale(0.9493 1)" font-family="'Liberation Serif', 'Times New Roman', serif" font-weight="normal" font-size="71.56">°</text>
<text transform="translate(1482.62 1891.10) scale(1.0077 1)" font-family="'Liberation Serif', 'Times New Roman', serif" font-weight="normal" font-size="81.71">C</text>
<text transform="translate(1536.58 1890.28) scale(0.8939 1)" font-family="'Liberation Sans', Arial, sans-serif" font-weight="normal" font-size="79.32">)</text>
<text transform="translate(92.10 1250.63) rotate(-90) scale(0.9857 1)" font-family="'Liberation Sans', Arial, sans-serif" font-weight="normal" font-size="84.45">H<tspan font-size="79.38">eat</tspan> F<tspan font-size="79.38">low</tspan> <tspan font-size="79.38">(</tspan>W</text>
<text transform="translate(80.69 765.20) rotate(-90) scale(1.0784 1)" font-family="'Liberation Sans', Arial, sans-serif" font-weight="normal" font-size="63.30">·</text>
<text transform="translate(92.25 738.61) rotate(-90) scale(0.9840 1)" font-family="'Liberation Sans', Arial, sans-serif" font-weight="normal" font-size="80.23">g</text>
<text transform="translate(47.86 680.61) rotate(-90) scale(1.1235 1)" font-family="NanumGothic, 'Liberation Sans', sans-serif" font-weight="normal" font-size="47.05">1</text>
<text transform="translate(49.50 695.35) rotate(-90) scale(1.0320 1)" font-family="'Liberation Sans', Arial, sans-serif" font-weight="normal" font-size="51.20">-</text>
<text transform="translate(91.61 650.22) rotate(-90) scale(0.8950 1)" font-family="'Liberation Sans', Arial, sans-serif" font-weight="normal" font-size="79.64">)</text>
<text transform="translate(98.10 511.54) rotate(-90) scale(0.9446 1)" font-family="'Liberation Sans', Arial, sans-serif" font-weight="normal" font-size="84.45">EXO</text>
</g>
</svg>
</body>
</html>
